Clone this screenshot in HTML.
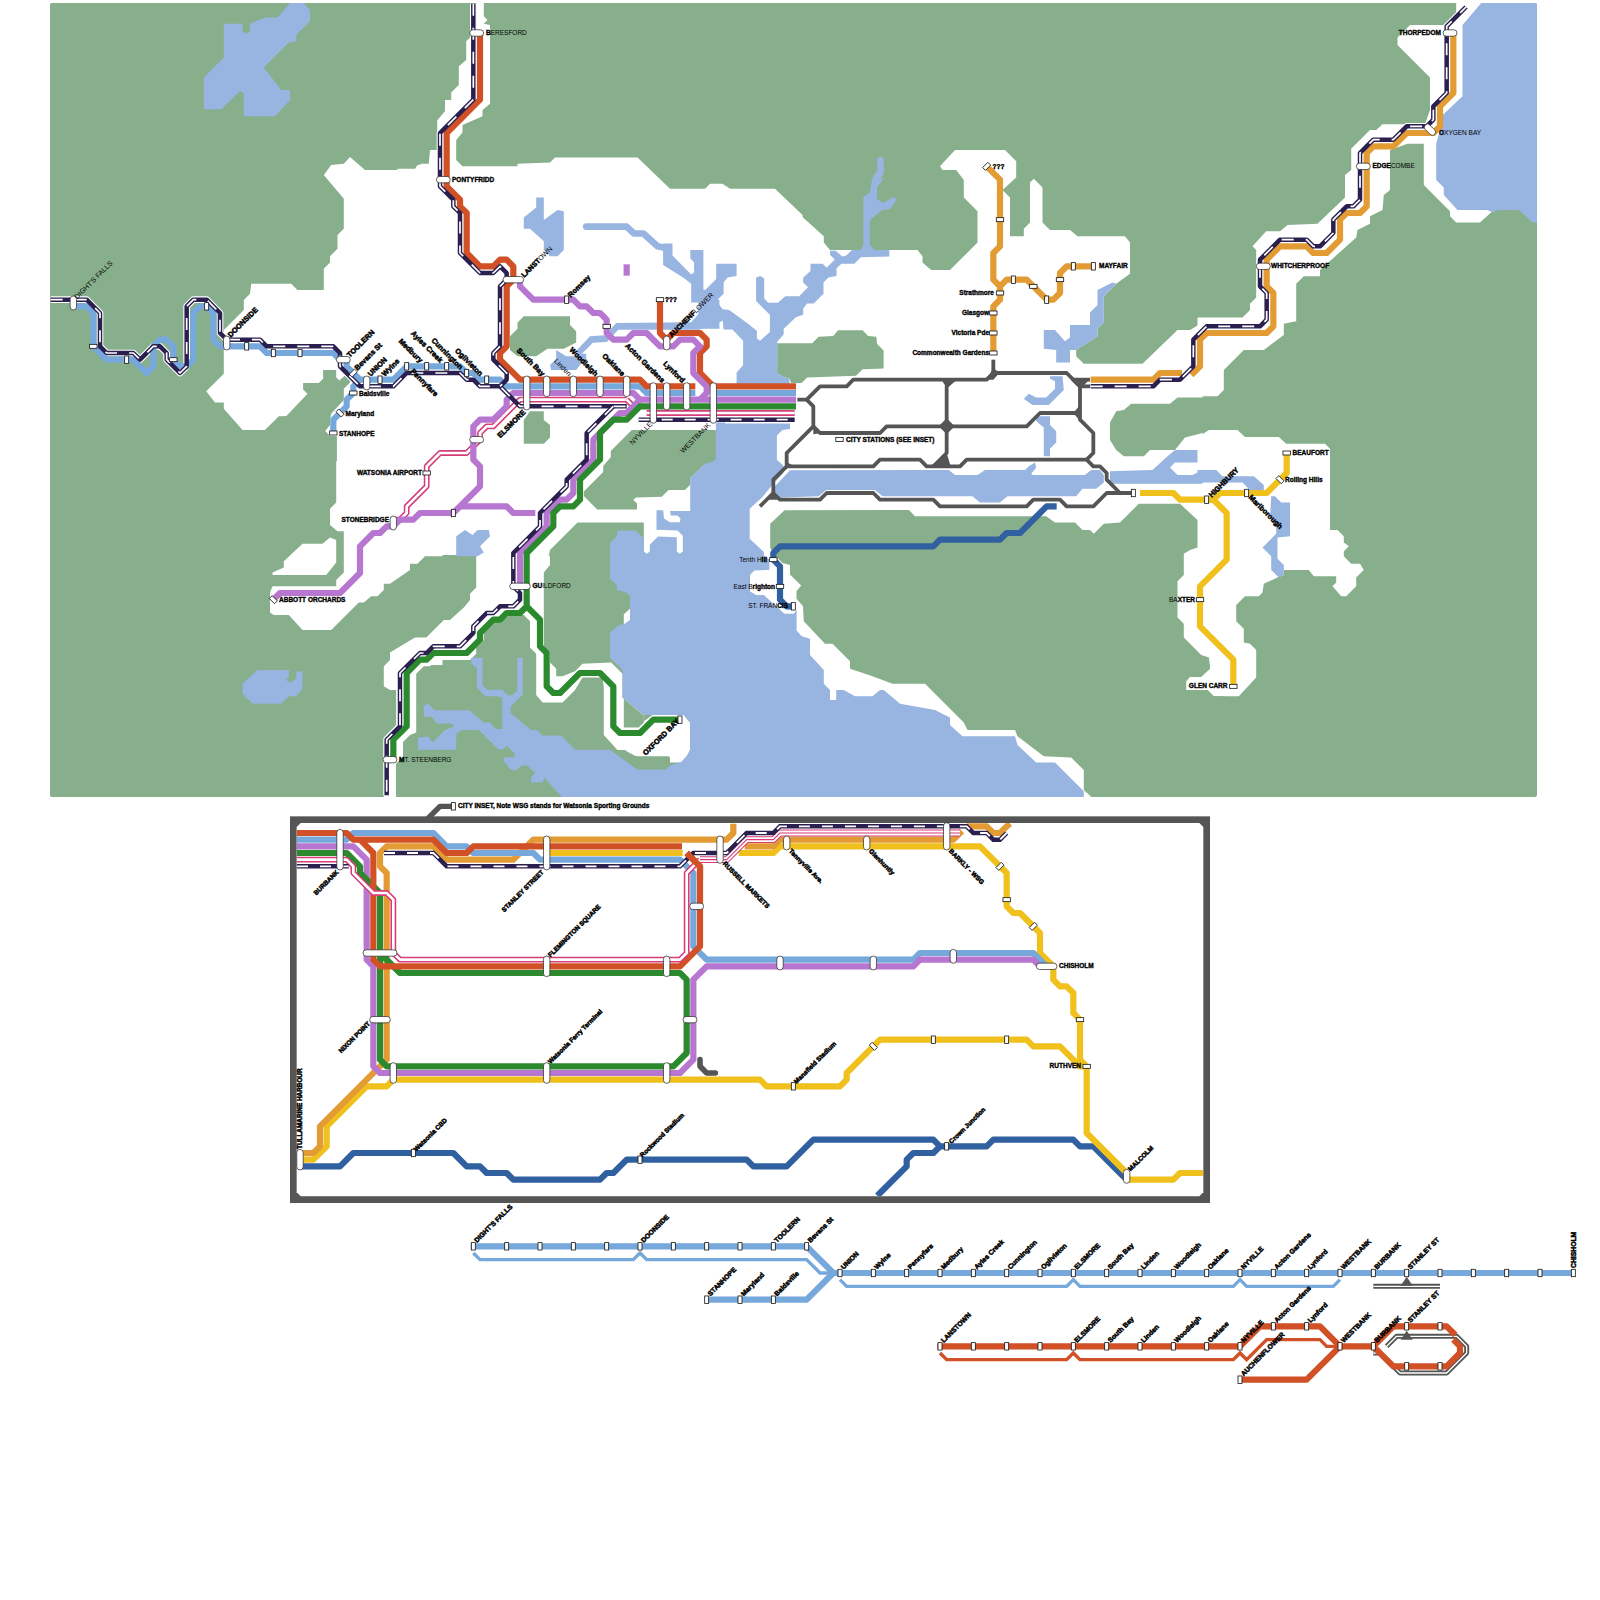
<!DOCTYPE html><html><head><meta charset="utf-8"><title>Map</title><style>html,body{margin:0;padding:0;background:#fff}svg{display:block}text{font-family:"Liberation Sans",sans-serif}</style></head><body>
<svg width="1600" height="1600" viewBox="0 0 1600 1600">
<defs><clipPath id="mapclip"><rect x="50" y="3" width="1487" height="794" rx="2"/></clipPath></defs>
<rect x="50" y="3" width="1487" height="794" rx="2" fill="#87af8b"/>
<g clip-path="url(#mapclip)">
<polygon points="442.5,120 437.5,120 437.5,150 430,150 428.8,163.8 421.2,163.8 416.2,170 365,170 350,157 343.8,163.8 331.2,165 323.8,175 343.8,198.8 343.8,228.8 337.5,235 337.5,248.8 330,256.2 330,262.5 323.8,268.8 323.8,290 297.5,290 291.2,283.8 251.2,283.8 250,293.8 243.8,300 243.8,310 223.8,330 223.8,373.8 206.2,391.2 215,402.5 442.5,402.5" fill="#fff"/>
<polygon points="397.5,168.8 415,168.8 417.5,165 430,163.8 430,155 437.5,152.5 437.5,120 445,111.2 445,100 451.2,100 451.2,92.5 458.8,85 458.8,66.2 466.2,60 466.2,41.2 470,37.5 470,28.8 476.2,25 476.2,3 483.8,3 483.8,16.2 487.5,20 483.8,23.8 490,25 490,103.8 482.5,110 482.5,116.2 462.5,125 462.5,132.5 456.2,140 456.2,160 462.5,166.2 517.5,166.2 517.5,163.8 550,162.5 555,157.5 637.5,157.5 670,188.8 705,188.8 710,183.8 722.5,183.8 730,188.8 775,188.8 802.5,215 802.5,402.5 397.5,402.5" fill="#fff"/>
<polygon points="797.5,212.5 823.8,236.2 823.8,242.5 830,250 917.5,250 922.5,256.2 922.5,262.5 931.2,270 950,270 977.5,242.5 977.5,211.2 963.8,197.5 963.8,180 956.2,170 942.5,170 940,166.2 955,150 1005,150 1016.2,161.2 1016.2,177.5 1002.5,190 1010,197.5 1010,236.2 1023.8,236.2 1023.8,228.8 1030,222.5 1030,182.5 1033.8,178.8 1042.5,187.5 1042.5,222.5 1050,230 1070,230 1077.5,236.2 1125,236.2 1130,242.5 1130,273.8 1116.2,283.8 1103.8,296.2 1103.8,322.5 1097.5,328.8 1097.5,336.2 1076.2,350 1076.2,356.2 1083.8,363.8 1142.5,363.8 1177.5,330 1190,330 1202.5,322.5 1202.5,402.5 797.5,402.5" fill="#fff"/>
<polygon points="1197.5,317.5 1242.5,317.5 1250,310 1250,303.8 1256.2,297.5 1256.2,250 1252.5,246.2 1266.2,231.2 1280,231.2 1287.5,225 1317.5,223.8 1345,197.5 1345,175 1351.2,170 1351.2,148.8 1370,130 1376.2,130 1382.5,124.2 1425,124.2 1430,110 1430,77.5 1397.5,45 1397.5,37.5 1410,25 1446.2,25 1456.2,13.8 1456.2,0 1485,0 1465,25 1465,100 1442.5,120 1440,143.8 1440,180 1447.5,190 1460,207.5 1487.5,207.5 1493.8,210 1480,222.5 1456.2,222.5 1450,216.2 1450,211.2 1423.8,185 1423.8,143.8 1407.5,143.8 1390,150 1390,190 1383.8,195 1382.5,210 1370,216.2 1370,223.8 1357.5,230 1356.2,237.5 1320,270 1320,276.2 1303.8,276.2 1296.2,283.8 1296.2,321.2 1283.8,323.8 1283.8,335 1263.8,350 1243.8,350 1223.8,370 1223.8,390 1217.5,396.2 1197.5,396.2" fill="#fff"/>
<polygon points="223.8,397.5 223.8,408.8 242.5,430 265,430 278.8,417.5 291.2,415 305,400 305,397.5" fill="#fff"/>
<polygon points="343.8,397.5 330,412.5 330,425 325,431.2 330,436.2 336.2,436.2 336.2,502.5 330,508.8 330,525 337.5,531.2 343.8,531.2 343.8,572.5 336.2,580 336.2,586.2 272.5,586.2 270,592.5 270,612.5 273.8,615 288.8,615 302.5,630 331.2,630 346.2,615 358.8,602.5 363.8,602.5 371.2,596.2 377.5,596.2 383.8,590 383.8,583.8 390,583.8 410,570 410,563.8 417.5,563.8 425,556.2 442.5,556.2 442.5,397.5" fill="#fff"/>
<polygon points="272.5,572.5 283.8,567.5 283.8,561.2 302.5,543.8 322.5,543.8 330,537.5 336.2,540 336.2,562.5 326.2,575 272.5,575" fill="#fff"/>
<polygon points="442.5,637.5 415,637.5 390,652.5 390,660 383.8,666.2 383.8,686.2 390,690 396.2,690 396.2,725 383.8,737.5 383.8,802.5 396,802.5 396,763.8 403,757 403,737.5 415,725.5 415,672.5 422.5,665 442.5,665" fill="#fff"/>
<polygon points="397.5,397.5 802.5,397.5 802.5,700 750,700 750,555 397.5,555" fill="#fff"/>
<polygon points="397.5,650 411.2,640 423.8,640 443.8,620 450,620 463.8,607.5 470,600 470,593.8 476.2,587.5 476.2,552.5 550,552.5 550,565 543.8,572.5 543.8,646.2 550,652.5 550,662.5 556.2,668.8 556.2,676.2 562.5,676.2 575,671.2 582.5,663.8 611.2,662.5 622.5,673.8 622.5,697.5 643.8,715 643.8,721.2 652.5,715 683.8,715 690,722.5 690,750 683.8,762.5 670,762.5 668.8,756.2 632.5,756.2 625,750 617.5,750 603.8,735 603.8,687.5 602.5,677.5 582.5,677.5 575,690 562.5,702.5 542.5,702.5 536.2,695 536.2,653.8 530,647.5 530,621.2 523.8,615 510,615 502.5,620 490,620 483.8,626.2 483.8,640 476.2,647.5 476.2,653.8 470,660 436.2,660 430,666.2 423.8,666.2 416.2,673.8 416.2,732.5 410,735 397.5,747.5" fill="#fff"/>
<polygon points="623.8,614.2 630,608.8 630,625 623.8,629.2" fill="#fff"/>
<polygon points="797.5,397.5 1202.5,397.5 1202.5,802.5 797.5,802.5" fill="#fff"/>
<polygon points="1197.5,437.5 1208.8,430 1237.5,430 1245,437 1278.8,437 1286.2,443.8 1325,443.8 1330,448.8 1330,530 1337.5,530 1343.8,536.2 1343.8,542.5 1348.8,546.2 1343.8,551.2 1343.8,556.2 1351.2,563.8 1360,563.8 1363.8,570 1356.2,577.5 1356.2,586.2 1346.2,596.2 1341.2,596.2 1332.5,586.2 1336.2,582.5 1336.2,576.2 1313.8,576.2 1308.8,570 1283.8,570 1283.8,575 1277.5,577.5 1263.8,583.8 1262.5,592.5 1258.8,596.2 1245,596.2 1236.2,605 1236.2,621.2 1243.8,628.8 1243.8,642.5 1250,643.8 1256.2,650 1256.2,677.5 1238.8,696.2 1213.8,696.2 1207.5,690 1185,690 1185,681.2 1197.5,676.2" fill="#fff"/>
<polygon points="510,336.2 517.5,328.8 517.5,322.5 523.8,316.2 570,316.2 570,325 576.2,331.2 576.2,342.5 563.8,348.8 547.5,348.8 536.2,356.2 517.5,356.2 510,350" fill="#87af8b"/>
<polygon points="523.8,420 530,411.2 543.8,411.2 543.8,420 550,425 550,437.5 543.8,443.8 523.8,443.8" fill="#87af8b"/>
<polygon points="631.8,430 715.8,430 715.8,459.2 712,463 706,463 690.2,478 690.2,484.8 685,490 668.5,490 661.8,496.8 636.2,497.5 633.2,499.8 637,503.5 637,509.5 597.2,509.5 583.8,496 583.8,491.5 603.2,472 603.2,466 610.8,457 610.8,451" fill="#87af8b"/>
<polygon points="577.5,522.5 643.8,522.5 643.8,556.2 548.8,556.2 550,550" fill="#87af8b"/>
<polygon points="623.8,698.8 643.8,715.5 643.8,722.5 638.8,727.5 623.8,727.5" fill="#87af8b"/>
<polygon points="698.1,430.9 715.9,430.9 715.9,460 706.6,463.8 698.1,467.5" fill="#87af8b"/>
<polygon points="612.8,750.6 625,750.6 636.2,756.2 656.9,762.8 662.5,757.2 670,757.2 670,765.6 666.2,769.4 637.2,769.4" fill="#87af8b"/>
<polygon points="784.5,510.2 909,510 915,516.2 1046.2,516.2 1055,522.5 1075,522.5 1082.5,530 1090,530 1093.8,533.8 1103.8,523.8 1120,522.5 1138.8,503.8 1180,503.8 1197.5,520 1197.5,547.5 1190,550 1183.8,553.8 1183.8,575 1177.5,581.2 1177.5,617.5 1183.8,623.8 1183.8,637.5 1201.2,655 1208.8,657.5 1210,668.8 1201.2,677 1190,677 1186.2,681.2 1186.2,690 1207.5,690 1213.8,696.2 1225,696.2 1225,802.5 1097.5,802.5 1083.8,790 1083.8,770 1071.2,757.5 1043.8,756.2 1017.5,736.2 1015,730 967.5,730 963.8,722.5 925,683.8 892.5,683.8 872.5,676.2 850,668.8 850,661.2 832.5,643.8 825,643.8 803.8,621.2 803,606.2 796.5,598.8 796.5,591.2 801.2,585.5 790,574.5 790,565 782.5,563 775,555.5 770.2,548 770.2,523.8" fill="#87af8b"/>
<polygon points="1110,422.5 1116.2,411.2 1123.8,410 1131.2,403.8 1170,403.8 1177.5,397.5 1225,397.5 1225,430 1208.8,430 1200,433.8 1185,437.5 1175,450 1150,450 1143.8,456.2 1123.8,456.2 1116.2,450 1110,440" fill="#87af8b"/>
<polygon points="1197.5,655 1208.8,657.5 1210,668.8 1197.5,677.5" fill="#87af8b"/>
<polygon points="777.2,343.3 812.1,343.3 818.6,336.8 833.2,336 838.1,330.3 862.5,330.3 868.2,336 876.3,336.8 877.1,344.1 883.6,350.6 883.6,368.5 862.5,369.3 856,375.8 807.2,377.4 801.5,383.1 791,383.1 789.4,378.2 784.5,377.4 777.2,373.3" fill="#87af8b"/>
<polygon points="303.1,383.1 318.8,383.1 323.1,378.8 323.1,370 336.2,370 336.2,377.5 339.4,380.6 346.9,373.8 350.6,377.5 350,382.5 343.8,388.8 343.8,400 331.2,413.8 330,421.2 323.8,429.4 330,436.2 336.9,436.2 336.9,461.2 250,461.2 242.5,430 265,430 278.8,416.2 286.2,416.2 307.5,393.8 303.1,389.4" fill="#87af8b"/>
<polygon points="290,3 303.8,3 310,10 310,21.2 296.2,35 296.2,41.2 288.8,42.5 263.8,67.5 281.2,90 290,90 290,100 275,116.2 243.8,116.2 243.8,93.8 240,91.2 221.2,109.2 203.8,109.2 203.8,77.5 223.8,57.5 223.8,23.8 242.5,23.8 242.5,31.2 246.2,33.8 250,31.2 250,23.8 265,17.5 277.5,17.5" fill="#98b4e0"/>
<polygon points="536.2,197.5 543.8,197.5 543.8,220 557.5,210 563.8,211.2 563.8,250 557.5,256.2 550,256.2 543.8,250 543.8,241.2 530,228.8 523.8,228.8 523.8,217.5 536.2,207.5" fill="#98b4e0"/>
<polygon points="1043.8,330 1055,330 1065,341.2 1070,337.5 1070,325 1090,325 1090,312.5 1097.5,305 1097.5,290 1112.5,282.5 1116.2,283.8 1103.8,296.2 1103.8,322.5 1097.5,328.8 1097.5,336.2 1076.2,350 1070,350 1070,362.5 1056.2,362.5 1056.2,350 1043.8,348.8" fill="#98b4e0"/>
<polygon points="1483.8,0 1540,0 1540,222.5 1532.5,222.5 1518.8,210 1497.5,210 1492.5,212.5 1487.5,210 1457.5,210 1443.8,195 1443.8,187.5 1436.2,180 1436.2,143.8 1440,130 1440,117.5 1462.5,96.2 1462.5,25" fill="#98b4e0"/>
<polygon points="242.5,683.8 257.5,670 288.8,670 288.8,676.2 286.2,680 290,682.5 296.2,678.8 296.2,671.2 302.5,671.2 302.5,688.8 296.2,696.2 288.8,696.2 281.2,703.8 252.5,703.8 242.5,693.8" fill="#98b4e0"/>
<polygon points="716.2,422.5 715.8,459.2 712,463 706,463 690.2,478 690.2,511 670,511 670.8,515.5 677.5,515.5 680.5,518.5 679.8,522.2 670,522.2 664,518.5 663.2,510.2 656.5,510.2 656.5,529.8 677.5,530.5 682.8,535.8 682.8,551.5 679.8,553.8 676.8,551.5 676.8,537.2 658,536.5 649.8,544.8 649.8,551.5 646.8,553.8 643.8,551.5 643.8,538 635.5,530.5 617.5,530.5 616.8,536.5 610,542.5 610,578.8 616.8,585 616.8,590 626.2,592.5 630,596.2 630,620 623.8,624.2 618.8,625 610,632.5 610,658 622.5,670 622.5,697.5 643.8,715 652.5,715 683.8,715 690,722.5 690,750 683.8,762.5 683.8,802.5 802.5,802.5 802.5,640 725,640 725,422.5" fill="#98b4e0"/>
<polygon points="715.9,423.4 790,423.4 790,429.1 782.5,430 776.9,435.6 776.9,460 783.4,465.6 783.4,473.1 771.2,486.2 761.9,497.5 749.7,508.8 749.7,538.8 763.8,551.9 763.8,555.6 769.4,559.4 769.4,569.7 754.4,570.6 749.7,575.3 749.7,591.2 756.2,595 763.8,595 784.4,613.8 793.8,613.8 796.6,610 796.6,630.6 805,640 805,643.8 700,643.8 700,467.5 706.6,463.8 715.9,460" fill="#98b4e0"/>
<polygon points="471.2,657.8 482.5,657.8 482.5,685 487.2,689.7 502.2,689.7 507.8,695.3 512.5,695.3 517.2,690.6 517.2,657.8 522.8,657.8 522.8,694.4 510.6,706.6 510.6,713.1 531.2,730 536.9,730 542.5,735.6 561.2,735.6 575.3,749.7 610,749.7 637.2,769.4 666.2,769.4 670,765.6 681.2,761.9 689.7,752.5 701.9,752.5 701.9,798.4 563.1,798.4 544.4,777.8 542.5,782.5 531.2,782.5 531.2,776.9 535,773.1 527.5,765.6 521.9,765.6 516.2,770.3 510.6,769.4 504.1,761.9 504.1,757.2 514.4,757.2 514.4,753.4 506.9,745.9 502.2,749.7 497.5,748.8 478.8,730 461.9,730 456.2,733.8 456.2,749.7 417.8,749.7 417.8,737.5 428.1,736.6 432.8,742.2 445,730 454.4,726.2 450.6,723.4 436.6,723.4 431.9,716.9 424.4,716.9 423.4,705.6 428.1,703.8 434.7,710.3 469.4,710.3 483.4,722.5 490,722.5 495.6,729.1 502.2,729.1 502.2,698.1 497.5,696.2 485.3,696.2 476.9,687.8 476.9,668.1 471.2,663.4" fill="#98b4e0"/>
<polygon points="456.2,536.2 465,530 472.5,535 477.5,530 488.8,530 490,536.2 480,546.2 483.8,552.5 477.5,556.2 456.2,556.2" fill="#98b4e0"/>
<polygon points="790,470.2 948.8,470 955,475 977.5,475 985,470 1025,470 1028.8,466.2 1035,462.5 1036.2,467.5 1031.2,473.8 1032.5,475 1085,475 1091.2,470 1100,470 1103.8,475 1103.8,482.5 1096.2,488.8 1082.5,488.8 1076.2,496.2 1007.5,496.2 1000,502.5 980,502.5 972.5,496.2 882.5,496.2 875,490 826.2,490 818.8,496.2 780.5,497.5 775,492 775,486.2" fill="#98b4e0"/>
<polygon points="1110,471.2 1152.5,470 1167.5,456.2 1175,450 1197.5,450 1197.5,462.5 1175,462.5 1170,467.5 1177.5,475 1192.5,475 1202.5,470 1202.5,483.8 1110,483.8" fill="#98b4e0"/>
<polygon points="1036.2,416.2 1050,416.2 1050,425 1056.2,431.2 1056.2,442.5 1050,448.8 1050,456.2 1043.8,456.2 1043.8,427.5 1036.2,421.2" fill="#98b4e0"/>
<polygon points="797.5,635 810,638.8 810,655 823.8,670 823.8,683.8 830,690 830,700 836.2,700 836.2,690 843.8,690 855,696.2 872.5,696.2 880,690 883.8,690 900,703.8 935,710 950,717.5 950,725 962.5,736.2 1015,736.2 1017.5,745 1036.2,762.5 1055,762.5 1083.8,791.2 1083.8,802.5 797.5,802.5" fill="#98b4e0"/>
<polygon points="1197.5,470 1216.2,470 1222.5,476.2 1253.8,476.2 1263.8,485 1263.8,490 1250,490 1242.5,482.5 1197.5,482.5" fill="#98b4e0"/>
<polygon points="1271.2,496.2 1275,496.2 1281.2,502.5 1290,502.5 1290,536.2 1277.5,537.5 1277.5,558.8 1283.8,565 1283.8,575 1278.8,577.5 1271.2,570 1271.2,556.2 1262.5,547.5 1276.2,533.8 1276.2,523.8 1270,517.5" fill="#98b4e0"/>
<polygon points="736.6,383.9 736.6,372.5 743.1,365.2 743.1,340.8 732.5,329.5 723.6,329.5 722.7,320.5 715.4,324.6 698.4,324.6 698.4,293.7 703.2,292.1 716.2,279.1 716.2,263.7 736.6,263.7 736.6,275.9 727.6,277.5 723.6,282.4 723.6,293.7 716.2,301 722.7,309.2 729.2,310 747.1,323 756.9,331.1 756.9,338.4 760.1,340.8 769.9,331.9 769.9,314.8 756.1,301 756.1,277.5 760.1,275.9 764.2,278.3 764.2,298.6 768.2,302.7 778,302.7 785.3,296.2 799.1,296.2 808,287.2 803.2,282.4 803.2,277.5 810.5,271 810.5,263.7 822.7,263.7 826.7,267.7 834.8,259.6 830,254.7 830,250.7 835.7,250.7 842.2,256.4 846.2,255.5 851.9,249.9 860.8,249.9 863.3,245 863.3,197.1 869.8,192.2 872.2,178.4 883.6,178.4 877.1,187.3 877.1,199.5 883.6,202.7 893.3,197.1 896.6,199.5 890.1,209.2 882,210.1 869.8,220.6 869.8,245 874.7,249.9 889.3,249.9 889.3,256.4 860.8,257.2 854.3,263.7 841.3,263.7 836.5,268.5 836.5,275.9 828.4,277.5 823.5,282.4 823.5,293.7 813.7,303.5 807.2,303.5 803.2,308.4 803.2,314.8 795.9,317.3 783.7,328.7 783.7,334.3 777.2,341.7 777.2,373.3 784.5,377.4 789.4,378.2 789.4,383.9" fill="#98b4e0"/>
<polygon points="663.1,243.4 672.5,243.4 672.5,255.6 691.2,274.4 694.1,272.5 694.1,262.2 690.3,258.4 690.3,250 703.4,250 703.4,289.4 710,291.2 719.4,300.6 719.4,328.8 702.5,328.8 698.8,329.7 618.1,329.7 606.9,341.9 592.8,342.8 580.6,355 575.9,351.2 590,336.2 605,335.3 616.2,323.1 691.2,322.2 698.8,313.8 702.5,302.5 691.2,302.5 691.2,283.8 683.8,278.1 663.1,265" fill="#98b4e0"/>
<polygon points="556.2,350 566.2,356.2 575,356.2 578.8,353.8 586.2,353.8 586.2,358.8 580,365 576.2,370 551.2,370 550,365 556.2,358.8" fill="#98b4e0"/>
<polygon points="1050,376.2 1062.5,376.2 1063.8,390 1048.8,405 1032.5,405 1023.8,398.8 1028.8,393.8 1036.2,397.5 1046.2,397.5 1055,388.8 1055,381.2 1050,378.8" fill="#98b4e0"/>
<polyline points="880.5,160 880.5,172.5 876.2,177.5 876.2,182.5" fill="none" stroke="#98b4e0" stroke-width="6.7" stroke-linejoin="round" stroke-linecap="round"/>
<polyline points="586.2,226.6 626.6,226.6 634.1,233.5 643.4,233.5 657.5,246.2 665.9,248.1" fill="none" stroke="#98b4e0" stroke-width="6.7" stroke-linejoin="round" stroke-linecap="round"/>
</g>
<g id="lines">
<polyline points="50.67,299.67 86.67,299.67 100,313 100,346.33 106.67,353 133.33,353 140,359.67 153.33,346.33 160,346.33 166.67,353 166.67,359.67 180,373 186.67,366.33 186.67,306.33 193.33,299.67 206.67,299.67 220,313 220,333 226.67,339.67 260,339.67 266.67,346.33 333.33,346.33 340,353 340,366.33 360,386.33 393.33,386.33 406.67,373 460,373 466.67,379.67 473.33,379.67 480,386.33 500,386.33 520,406.33 626.67,406.33" fill="none" stroke="#fff" stroke-width="6.666666666666667" stroke-linejoin="round"/>
<polyline points="473.33,3.67 473.33,99.67 440,133 440,186.33 453.33,199.67 453.33,206.33 460,213 460,253 480,273 493.33,273 500,266.33 506.67,273 506.67,279.67 500,286.33 500,346.33 493.33,353 493.33,359.67 506.67,373 506.67,379.67 500,386.33" fill="none" stroke="#fff" stroke-width="6.666666666666667" stroke-linejoin="round"/>
<polyline points="613.33,406.33 586.67,433 586.67,459.67 566.67,479.67 566.67,486.33 540,513 540,526.33 513.33,553 513.33,586.33 520,593 520,599.67 513.33,606.33 500,606.33 493.33,613 486.67,613 473.33,626.33 473.33,633 460,646.33 433.33,646.33 426.67,653 420,653 400,673 400,726.33 386.67,739.67 386.67,795.33" fill="none" stroke="#fff" stroke-width="6.666666666666667" stroke-linejoin="round"/>
<polyline points="1090.67,386.33 1153.33,386.33 1160,379.67 1180,379.67 1193.33,366.33 1193.33,339.67 1206.67,326.33 1260,326.33 1266.67,319.67 1266.67,293 1260,286.33 1260,259.67 1280,239.67 1306.67,239.67 1313.33,246.33 1320,246.33 1333.33,233 1333.33,219.67 1346.67,206.33 1353.33,206.33 1360,199.67 1360,153 1373.33,139.67 1393.33,139.67 1406.67,126.33 1426.67,126.33 1433.33,119.67 1433.33,106.33 1446.67,93 1446.67,33 1446.67,26.33 1466,7" fill="none" stroke="#fff" stroke-width="6.666666666666667" stroke-linejoin="round"/>
<polyline points="73.33,306.33 86.67,306.33 93.33,313 93.33,346.33 106.67,359.67 133.33,359.67 146.67,373 153.33,366.33 153.33,346.33 160,339.67 166.67,339.67 173.33,346.33 173.33,359.67 180,366.33 186.67,366.33 193.33,359.67 193.33,313 200,306.33 206.67,306.33 213.33,313 213.33,339.67 220,346.33 260,346.33 266.67,353 333.33,353 340,359.67 346.67,359.67 346.67,366.33 360,379.67 393.33,379.67 406.67,366.33 460,366.33 466.67,373 473.33,373 480,379.67 500,379.67 506.67,386.33 640,386.33 646.67,393 695.33,393" fill="none" stroke="#77a8dc" stroke-width="6.2" stroke-linejoin="round"/>
<polyline points="713.33,393 796,393" fill="none" stroke="#77a8dc" stroke-width="6.2" stroke-linejoin="round"/>
<polyline points="360,379.67 353.33,386.33 353.33,393 346.67,399.67 346.67,406.33 340,413 333.33,419.67 333.33,433" fill="none" stroke="#77a8dc" stroke-width="6.2" stroke-linejoin="round"/>
<polyline points="480,33 480,99.67 446.67,133 446.67,186.33 460,199.67 460,206.33 466.67,213 466.67,253 480,266.33 493.33,266.33 500,259.67 506.67,259.67 513.33,266.33 513.33,279.67 506.67,286.33 506.67,346.33 500,353 500,359.67 520,379.67 640,379.67 646.67,386.33 695.33,386.33" fill="none" stroke="#d15026" stroke-width="6.2" stroke-linejoin="round"/>
<polyline points="660,299.67 660,333 666.67,339.67 673.33,333 700,333 706.67,339.67 706.67,346.33 700,353 700,373 713.33,386.33 796,386.33" fill="none" stroke="#d15026" stroke-width="6.2" stroke-linejoin="round"/>
<polyline points="626.67,399.67 526.67,399.67 520,399.67 493.33,426.33 486.67,426.33 480,433 480,439.67 466.67,453 440,453 426.67,466.33 426.67,486.33 406.67,506.33 406.67,513 400,519.67 393.33,519.67" fill="none" stroke="#d63d78" stroke-width="5.8" stroke-linejoin="round"/>
<polyline points="626.67,399.67 526.67,399.67 520,399.67 493.33,426.33 486.67,426.33 480,433 480,439.67 466.67,453 440,453 426.67,466.33 426.67,486.33 406.67,506.33 406.67,513 400,519.67 393.33,519.67" fill="none" stroke="#fff" stroke-width="2.7" stroke-linejoin="round"/>
<polyline points="626.67,399.67 633.33,406.33" fill="none" stroke="#d63d78" stroke-width="5.8" stroke-linejoin="round"/>
<polyline points="626.67,399.67 633.33,406.33" fill="none" stroke="#fff" stroke-width="2.7" stroke-linejoin="round"/>
<polyline points="646.67,413 794.67,413" fill="none" stroke="#d63d78" stroke-width="5.8" stroke-linejoin="round"/>
<polyline points="646.67,413 794.67,413" fill="none" stroke="#fff" stroke-width="2.7" stroke-linejoin="round"/>
<polyline points="520,279.67 520,286.33 533.33,299.67 573.33,299.67 580,306.33 586.67,306.33 593.33,313 600,313 606.67,319.67 606.67,333 613.33,339.67 626.67,339.67 633.33,333 646.67,333 660,346.33 673.33,346.33 680,339.67 693.33,339.67 700,346.33 693.33,353 693.33,373 706.67,386.33 706.67,393 700,399.67" fill="none" stroke="#b776cf" stroke-width="6.2" stroke-linejoin="round"/>
<polyline points="626.67,264.33 626.67,275.67" fill="none" stroke="#b776cf" stroke-width="6.2" stroke-linejoin="round"/>
<polyline points="273.33,599.67 280,593 340,593 360,573 360,546.33 373.33,533 380,533 386.67,526.33 393.33,526.33 400,519.67 413.33,519.67 420,513 453.33,513 480,486.33 480,466.33 473.33,459.67 473.33,426.33 480,419.67 493.33,419.67 506.67,406.33 506.67,399.67 513.33,393 633.33,393 640,399.67 796,399.67" fill="none" stroke="#b776cf" stroke-width="6.2" stroke-linejoin="round"/>
<polyline points="460,506.33 506.67,506.33 513.33,513 535.33,513" fill="none" stroke="#b776cf" stroke-width="6.2" stroke-linejoin="round"/>
<polyline points="640,399.67 626.67,413 620,413 593.33,439.67 593.33,459.67 573.33,479.67 573.33,493 566.67,499.67 560,499.67 546.67,513 546.67,526.33 520,553 520,586.33" fill="none" stroke="#b776cf" stroke-width="6.2" stroke-linejoin="round"/>
<polyline points="796,406.33 640,406.33 626.67,419.67 613.33,419.67 600,433 600,459.67 580,479.67 580,499.67 573.33,506.33 560,506.33 553.33,513 553.33,526.33 526.67,553 526.67,606.33 520,613 506.67,613 500,619.67 493.33,619.67 480,633 480,639.67 466.67,653 433.33,653 426.67,659.67 420,659.67 406.67,673 406.67,726.33 393.33,739.67 393.33,759.67" fill="none" stroke="#2b8a2e" stroke-width="6.2" stroke-linejoin="round"/>
<polyline points="526.67,606.33 540,619.67 540,646.33 546.67,653 546.67,686.33 553.33,693 560,693 580,673 600,673 613.33,686.33 613.33,726.33 620,733 640,733 653.33,719.67 680,719.67" fill="none" stroke="#2b8a2e" stroke-width="6.2" stroke-linejoin="round"/>
<polyline points="793.33,606.33 786.67,606.33 780,599.67 780,566.33 773.33,559.67 773.33,553 780,546.33 933.33,546.33 940,539.67 1000,539.67 1006.67,533 1020,533 1046.67,506.33 1056.67,506.33" fill="none" stroke="#3060a0" stroke-width="6.2" stroke-linejoin="round"/>
<polyline points="986.67,166.33 1000,179.67 1000,246.33 993.33,253 993.33,279.67 1000,286.33 1000,299.67 993.33,306.33 993.33,353" fill="none" stroke="#e39b33" stroke-width="6.2" stroke-linejoin="round"/>
<polyline points="1000,286.33 1006.67,279.67 1026.67,279.67 1046.67,299.67 1053.33,299.67 1060,293 1060,273 1066.67,266.33 1093.33,266.33" fill="none" stroke="#e39b33" stroke-width="6.2" stroke-linejoin="round"/>
<polyline points="1090.67,379.67 1153.33,379.67 1160,373 1182,373" fill="none" stroke="#e39b33" stroke-width="6.2" stroke-linejoin="round"/>
<polyline points="1191.33,375 1200,366.33 1200,339.67 1206.67,333 1266.67,333 1273.33,326.33 1273.33,293 1266.67,286.33 1266.67,259.67 1280,246.33 1306.67,246.33 1313.33,253 1326.67,253 1340,239.67 1340,219.67 1346.67,213 1360,213 1366.67,206.33 1366.67,153 1373.33,146.33 1393.33,146.33 1406.67,133 1433.33,133 1440,126.33 1440,106.33 1453.33,93 1453.33,33" fill="none" stroke="#e39b33" stroke-width="6.2" stroke-linejoin="round"/>
<polyline points="1140,493 1173.33,493 1180,499.67 1213.33,499.67 1220,493 1266.67,493 1286.67,473 1286.67,453" fill="none" stroke="#f0c11d" stroke-width="6.2" stroke-linejoin="round"/>
<polyline points="1206.67,499.67 1213.33,499.67 1226.67,513 1226.67,559.67 1200,586.33 1200,626.33 1233.33,659.67 1233.33,686.33" fill="none" stroke="#f0c11d" stroke-width="6.2" stroke-linejoin="round"/>
<polyline points="797.33,399.67 806.67,399.67 820,386.33 846.67,386.33 853.33,379.67 986.67,379.67 993.33,373 1066.67,373 1080,386.33 1080,419.67 1093.33,433 1093.33,453 1086.67,459.67 1093.33,466.33 1100,466.33 1106.67,473 1106.67,479.67 1120,493 1133.33,493" fill="none" stroke="#555555" stroke-width="3.8" stroke-linejoin="round"/>
<polyline points="1073.33,379.67 1090,379.67" fill="none" stroke="#555555" stroke-width="3.8" stroke-linejoin="round"/>
<polyline points="1080,386.33 1090,386.33" fill="none" stroke="#555555" stroke-width="3.8" stroke-linejoin="round"/>
<polyline points="806.67,399.67 813.33,406.33 813.33,426.33 786.67,453 786.67,466.33 773.33,479.67 773.33,493 760,506.33" fill="none" stroke="#555555" stroke-width="3.8" stroke-linejoin="round"/>
<polyline points="813.33,426.33 820,433 880,433 886.67,426.33 1026.67,426.33 1040,413 1080,413" fill="none" stroke="#555555" stroke-width="3.8" stroke-linejoin="round"/>
<polyline points="953.33,379.67 946.67,386.33 946.67,453 933.33,466.33" fill="none" stroke="#555555" stroke-width="3.8" stroke-linejoin="round"/>
<polyline points="786.67,466.33 873.33,466.33 880,459.67 920,459.67 926.67,466.33 960,466.33 966.67,459.67 1086.67,459.67" fill="none" stroke="#555555" stroke-width="3.8" stroke-linejoin="round"/>
<polyline points="773.33,493 780,499.67 820,499.67 826.67,493 873.33,493 880,499.67 933.33,499.67 940,506.33 1026.67,506.33 1033.33,499.67 1060,499.67 1066.67,506.33 1093.33,506.33 1106.67,493 1120,493" fill="none" stroke="#555555" stroke-width="3.8" stroke-linejoin="round"/>
<polyline points="993.33,373 993.33,359.67" fill="none" stroke="#555555" stroke-width="3.8" stroke-linejoin="round"/>
<polyline points="50.67,299.67 86.67,299.67 100,313 100,346.33 106.67,353 133.33,353 140,359.67 153.33,346.33 160,346.33 166.67,353 166.67,359.67 180,373 186.67,366.33 186.67,306.33 193.33,299.67 206.67,299.67 220,313 220,333 226.67,339.67 260,339.67 266.67,346.33 333.33,346.33 340,353 340,366.33 360,386.33 393.33,386.33 406.67,373 460,373 466.67,379.67 473.33,379.67 480,386.33 500,386.33 520,406.33 626.67,406.33" fill="none" stroke="#2a1f4f" stroke-width="4.5" stroke-linejoin="round"/>
<polyline points="50.67,299.67 86.67,299.67 100,313 100,346.33 106.67,353 133.33,353 140,359.67 153.33,346.33 160,346.33 166.67,353 166.67,359.67 180,373 186.67,366.33 186.67,306.33 193.33,299.67 206.67,299.67 220,313 220,333 226.67,339.67 260,339.67 266.67,346.33 333.33,346.33 340,353 340,366.33 360,386.33 393.33,386.33 406.67,373 460,373 466.67,379.67 473.33,379.67 480,386.33 500,386.33 520,406.33 626.67,406.33" fill="none" stroke="#fff" stroke-width="1.7" stroke-dasharray="12 12" stroke-linejoin="round"/>
<polyline points="473.33,3.67 473.33,99.67 440,133 440,186.33 453.33,199.67 453.33,206.33 460,213 460,253 480,273 493.33,273 500,266.33 506.67,273 506.67,279.67 500,286.33 500,346.33 493.33,353 493.33,359.67 506.67,373 506.67,379.67 500,386.33" fill="none" stroke="#2a1f4f" stroke-width="4.5" stroke-linejoin="round"/>
<polyline points="473.33,3.67 473.33,99.67 440,133 440,186.33 453.33,199.67 453.33,206.33 460,213 460,253 480,273 493.33,273 500,266.33 506.67,273 506.67,279.67 500,286.33 500,346.33 493.33,353 493.33,359.67 506.67,373 506.67,379.67 500,386.33" fill="none" stroke="#fff" stroke-width="1.7" stroke-dasharray="12 12" stroke-linejoin="round"/>
<polyline points="613.33,406.33 586.67,433 586.67,459.67 566.67,479.67 566.67,486.33 540,513 540,526.33 513.33,553 513.33,586.33 520,593 520,599.67 513.33,606.33 500,606.33 493.33,613 486.67,613 473.33,626.33 473.33,633 460,646.33 433.33,646.33 426.67,653 420,653 400,673 400,726.33 386.67,739.67 386.67,795.33" fill="none" stroke="#2a1f4f" stroke-width="4.5" stroke-linejoin="round"/>
<polyline points="613.33,406.33 586.67,433 586.67,459.67 566.67,479.67 566.67,486.33 540,513 540,526.33 513.33,553 513.33,586.33 520,593 520,599.67 513.33,606.33 500,606.33 493.33,613 486.67,613 473.33,626.33 473.33,633 460,646.33 433.33,646.33 426.67,653 420,653 400,673 400,726.33 386.67,739.67 386.67,795.33" fill="none" stroke="#fff" stroke-width="1.7" stroke-dasharray="12 12" stroke-linejoin="round"/>
<polyline points="638.67,419.67 794.67,419.67" fill="none" stroke="#2a1f4f" stroke-width="4.5"/>
<polyline points="638.67,419.67 794.67,419.67" fill="none" stroke="#fff" stroke-width="1.9" stroke-dasharray="11 12"/>
<polyline points="1090.67,386.33 1153.33,386.33 1160,379.67 1180,379.67 1193.33,366.33 1193.33,339.67 1206.67,326.33 1260,326.33 1266.67,319.67 1266.67,293 1260,286.33 1260,259.67 1280,239.67 1306.67,239.67 1313.33,246.33 1320,246.33 1333.33,233 1333.33,219.67 1346.67,206.33 1353.33,206.33 1360,199.67 1360,153 1373.33,139.67 1393.33,139.67 1406.67,126.33 1426.67,126.33 1433.33,119.67 1433.33,106.33 1446.67,93 1446.67,33 1446.67,26.33 1466,7" fill="none" stroke="#2a1f4f" stroke-width="4.5" stroke-linejoin="round"/>
<polyline points="1090.67,386.33 1153.33,386.33 1160,379.67 1180,379.67 1193.33,366.33 1193.33,339.67 1206.67,326.33 1260,326.33 1266.67,319.67 1266.67,293 1260,286.33 1260,259.67 1280,239.67 1306.67,239.67 1313.33,246.33 1320,246.33 1333.33,233 1333.33,219.67 1346.67,206.33 1353.33,206.33 1360,199.67 1360,153 1373.33,139.67 1393.33,139.67 1406.67,126.33 1426.67,126.33 1433.33,119.67 1433.33,106.33 1446.67,93 1446.67,33 1446.67,26.33 1466,7" fill="none" stroke="#fff" stroke-width="1.7" stroke-dasharray="12 12" stroke-linejoin="round"/>
<polygon points="946.67,453 933.33,466.33 950.67,466.33" fill="#555555"/>
<polygon points="938.67,426.33 946.67,418.33 954.67,426.33 946.67,434.33" fill="#555555"/>
<polygon points="941.33,379.67 946.67,387.67 957.33,379.67" fill="#555555"/>
<polygon points="1073.33,413 1080,405 1080,421" fill="#555555"/>
<polygon points="1070.67,379.67 1089.33,379.67 1080,389" fill="#555555"/>
<polygon points="813.33,426.33 813.33,434.33 821.33,433" fill="#555555"/>
<polygon points="786.67,462.33 786.67,466.33 794.67,466.33" fill="#555555"/>
<polygon points="773.33,489 773.33,493 782,499.67 768,499.67" fill="#555555"/>
<polygon points="986.67,379.67 993.33,367.67 999.33,373 993.33,379.67" fill="#555555"/>
</g>
<g id="inset">
<rect x="290.00" y="816.34" width="920.01" height="386.67" fill="#555555"/>
<polygon points="300.6633333333333,823.0033333333333 1199.3366666666668,823.0033333333333 1203.3366666666668,827.0033333333333 1203.3366666666668,1192.3366666666668 1199.3366666666668,1196.3366666666668 300.6633333333333,1196.3366666666668 296.6633333333333,1192.3366666666668 296.6633333333333,827.0033333333333" fill="#fff"/>
<polyline points="426.67,819.67 440,806.33 453.33,806.33" fill="none" stroke="#555555" stroke-width="5.4" stroke-linejoin="round"/>
<clipPath id="insclip"><rect x="296.6633333333333" y="823.0033333333333" width="906.6733333333335" height="373.3333333333335"/></clipPath><g clip-path="url(#insclip)">
<polyline points="300,1166.33 340,1166.33 353.33,1153 453.33,1153 466.67,1166.33 480,1166.33 486.67,1173 506.67,1173 513.33,1179.67 600,1179.67 606.67,1173 613.33,1173 626.67,1159.67 746.67,1159.67 753.33,1166.33 786.67,1166.33 813.33,1139.67 933.33,1139.67 940,1146.33 986.67,1146.33 993.33,1139.67 1073.33,1139.67 1080,1146.33 1093.33,1146.33 1120,1173 1126.67,1179.67" fill="none" stroke="#3060a0" stroke-width="6.2" stroke-linejoin="round"/>
<polyline points="940,1146.33 933.33,1153 913.33,1153 906.67,1159.67 906.67,1166.33 880,1193 877.33,1195.67" fill="none" stroke="#3060a0" stroke-width="6.2" stroke-linejoin="round"/>
<polyline points="300,1159.67 313.33,1159.67 326.67,1146.33 326.67,1126.33 366.67,1086.33 386.67,1086.33 393.33,1079.67 760,1079.67 766.67,1086.33 840,1086.33 846.67,1079.67 846.67,1073 880,1039.67 1026.67,1039.67 1033.33,1046.33 1060,1046.33 1080,1066.33 1086.67,1066.33" fill="none" stroke="#f0c11d" stroke-width="6.2" stroke-linejoin="round"/>
<polyline points="550,853 682.67,853" fill="none" stroke="#f0c11d" stroke-width="6.2" stroke-linejoin="round"/>
<polyline points="738.67,853 773.33,853 780,846.33 980,846.33 1006.67,873 1006.67,906.33 1013.33,913 1020,913 1040,933 1040,953 1053.33,966.33 1053.33,979.67 1060,986.33 1066.67,986.33 1073.33,993 1073.33,1013 1080,1019.67 1080,1059.67 1086.67,1066.33 1086.67,1133 1126.67,1173 1126.67,1179.67 1173.33,1179.67 1180,1173 1203,1173" fill="none" stroke="#f0c11d" stroke-width="6.2" stroke-linejoin="round"/>
<polyline points="300,1153 313.33,1153 320,1146.33 320,1126.33 386.67,1059.67 386.67,873 380,866.33 380,853 386.67,846.33 433.33,846.33 446.67,859.67 513.33,859.67 533.33,839.67 726.67,839.67 733.33,833 733.33,823.67" fill="none" stroke="#e39b33" stroke-width="6.2" stroke-linejoin="round"/>
<polyline points="744.67,846.33 773.33,846.33 780,839.67 953.33,839.67 962,831" fill="none" stroke="#e39b33" stroke-width="6.2" stroke-linejoin="round"/>
<polyline points="966.67,826.33 986.67,826.33 993.33,833 1000,833 1006.67,826.33 1010,823.67" fill="none" stroke="#e39b33" stroke-width="6.2" stroke-linejoin="round"/>
<polyline points="297,839.67 346.67,839.67 353.33,833 433.33,833 446.67,846.33 466.67,846.33 473.33,853 533.33,853 540,859.67 680,859.67 693.33,873 693.33,946.33 706.67,959.67 913.33,959.67 920,953 1033.33,953 1046.67,966.33" fill="none" stroke="#77a8dc" stroke-width="6.2" stroke-linejoin="round"/>
<polyline points="297,846.33 353.33,846.33 366.67,859.67 366.67,959.67 373.33,966.33 373.33,1066.33 380,1073 680,1073 693.33,1059.67 693.33,979.67 706.67,966.33 913.33,966.33 920,959.67 1033.33,959.67 1040,966.33" fill="none" stroke="#b776cf" stroke-width="6.2" stroke-linejoin="round"/>
<polyline points="297,853 346.67,853 360,866.33 360,873 380,893 380,953 400,973 680,973 686.67,979.67 686.67,1053 673.33,1066.33 386.67,1066.33 380,1059.67 380,953" fill="none" stroke="#2b8a2e" stroke-width="6.2" stroke-linejoin="round"/>
<polyline points="297,833 346.67,833 353.33,839.67 433.33,839.67 446.67,853 466.67,853 473.33,846.33 682,846.33" fill="none" stroke="#d15026" stroke-width="6.2" stroke-linejoin="round"/>
<polyline points="360,839.67 373.33,853 373.33,959.67 380,966.33 680,966.33 700,946.33 700,866.33 686.67,853" fill="none" stroke="#d15026" stroke-width="6.2" stroke-linejoin="round"/>
<polyline points="297,859.67 346.67,859.67 353.33,866.33 353.33,873 373.33,893 386.67,893 393.33,899.67 393.33,953 400,959.67 680,959.67 686.67,953 686.67,873 700,859.67" fill="none" stroke="#d63d78" stroke-width="5.8" stroke-linejoin="round"/>
<polyline points="297,859.67 346.67,859.67 353.33,866.33 353.33,873 373.33,893 386.67,893 393.33,899.67 393.33,953 400,959.67 680,959.67 686.67,953 686.67,873 700,859.67" fill="none" stroke="#fff" stroke-width="2.7" stroke-linejoin="round"/>
<polyline points="700,859.67 726.67,859.67 746.67,839.67 773.33,839.67 780,833 960,833" fill="none" stroke="#d63d78" stroke-width="6.8" stroke-linejoin="round"/>
<polyline points="700,859.67 726.67,859.67 746.67,839.67 773.33,839.67 780,833 960,833" fill="none" stroke="#fff" stroke-width="4.8" stroke-linejoin="round"/>
<polyline points="700,859.67 726.67,859.67 746.67,839.67 773.33,839.67 780,833 960,833" fill="none" stroke="#d63d78" stroke-width="1.1" stroke-linejoin="round"/>
<polyline points="297,866.33 348.67,866.33" fill="none" stroke="#2a1f4f" stroke-width="4.5"/>
<polyline points="297,866.33 348.67,866.33" fill="none" stroke="#fff" stroke-width="1.9" stroke-dasharray="11 12"/>
<polyline points="384,853 433.33,853 446.67,866.33 680,866.33 693.33,853 726.67,853 746.67,833 773.33,833 780,826.33 966.67,826.33 973.33,833 986.67,833 993.33,839.67 1000,839.67 1006.67,833" fill="none" stroke="#2a1f4f" stroke-width="4.5"/>
<polyline points="384,853 433.33,853 446.67,866.33 680,866.33 693.33,853 726.67,853 746.67,833 773.33,833 780,826.33 966.67,826.33 973.33,833 986.67,833 993.33,839.67 1000,839.67 1006.67,833" fill="none" stroke="#fff" stroke-width="1.9" stroke-dasharray="11 12"/>
<polyline points="686.67,853 700,866.33 700,879.67" fill="none" stroke="#d15026" stroke-width="6.2" stroke-linejoin="round"/>
<polyline points="700,1059.67 700,1066.33 706.67,1073 715.33,1073" fill="none" stroke="#555555" stroke-width="5.6" stroke-linejoin="round" stroke-linecap="round"/>
</g></g>
<g id="strips">
<polyline points="473.33,1253 480,1259.67 633.33,1259.67 640,1253 646.67,1259.67 806.67,1259.67 820,1273 840,1273" fill="none" stroke="#77a8dc" stroke-width="3.4" stroke-linejoin="miter"/>
<polyline points="840,1279.67 846.67,1286.33 1066.67,1286.33 1073.33,1279.67 1080,1286.33 1233.33,1286.33 1240,1279.67 1246.67,1286.33 1333.33,1286.33 1340,1279.67" fill="none" stroke="#77a8dc" stroke-width="3.4" stroke-linejoin="miter"/>
<polyline points="470.67,1246.33 806.67,1246.33 833.33,1273 1573.33,1273" fill="none" stroke="#77a8dc" stroke-width="6.2" stroke-linejoin="round"/>
<polyline points="706.67,1299.67 806.67,1299.67 833.33,1273" fill="none" stroke="#77a8dc" stroke-width="6.2" stroke-linejoin="round"/>
<polyline points="1373.33,1286.33 1440,1286.33" fill="none" stroke="#555555" stroke-width="5" stroke-linejoin="round"/>
<polyline points="1373.33,1286.33 1440,1286.33" fill="none" stroke="#fff" stroke-width="1.3" stroke-linejoin="round"/>
<polyline points="1373.33,1353 1380,1353 1400,1373 1446.67,1373 1466.67,1353 1466.67,1346.33 1456.67,1336.33 1396.67,1336.33 1386.67,1346.33" fill="none" stroke="#555555" stroke-width="5" stroke-linejoin="round"/>
<polyline points="1373.33,1353 1380,1353 1400,1373 1446.67,1373 1466.67,1353 1466.67,1346.33 1456.67,1336.33 1396.67,1336.33 1386.67,1346.33" fill="none" stroke="#fff" stroke-width="1.3" stroke-linejoin="round"/>
<polyline points="940,1353 946.67,1359.67 1066.67,1359.67 1073.33,1353 1080,1359.67 1233.33,1359.67 1240,1353 1246.67,1359.67 1266.67,1339.67 1320,1339.67 1326.67,1346.33 1340,1346.33" fill="none" stroke="#d15026" stroke-width="3.4" stroke-linejoin="miter"/>
<polyline points="937.33,1346.33 1240,1346.33 1260,1326.33 1320,1326.33 1340,1346.33 1373.33,1346.33 1393.33,1326.33 1446.67,1326.33 1455.33,1335" fill="none" stroke="#d15026" stroke-width="6.2" stroke-linejoin="round"/>
<polyline points="1240,1379.67 1306.67,1379.67 1340,1346.33" fill="none" stroke="#d15026" stroke-width="6.2" stroke-linejoin="round"/>
<polyline points="1373.33,1346.33 1393.33,1366.33 1446.67,1366.33 1460,1353 1460,1346.33 1453.33,1339.67" fill="none" stroke="#d15026" stroke-width="6.2" stroke-linejoin="round"/>
<polygon points="1400.7,1285.7 1406.7,1276.7 1412.7,1285.7" fill="#555555"/>
<polygon points="1400.7,1339.7 1406.7,1330.7 1412.7,1339.7" fill="#555555"/>
</g>
<g id="stations">
<rect x="70.13" y="296.03" width="6.40" height="13.93" rx="3.20" fill="#fff" stroke="#222" stroke-width="0.7"/>
<rect x="223.47" y="336.03" width="6.40" height="13.93" rx="3.20" fill="#fff" stroke="#222" stroke-width="0.7"/>
<rect x="336.37" y="356.47" width="13.93" height="6.40" rx="3.20" fill="#fff" stroke="#222" stroke-width="0.7"/>
<rect x="363.47" y="376.03" width="6.40" height="13.93" rx="3.20" fill="#fff" stroke="#222" stroke-width="0.7"/>
<rect x="523.47" y="376.03" width="6.40" height="33.93" rx="3.20" fill="#fff" stroke="#222" stroke-width="0.7"/>
<rect x="543.47" y="376.03" width="6.40" height="20.60" rx="3.20" fill="#fff" stroke="#222" stroke-width="0.7"/>
<rect x="570.13" y="376.03" width="6.40" height="20.60" rx="3.20" fill="#fff" stroke="#222" stroke-width="0.7"/>
<rect x="596.80" y="376.03" width="6.40" height="20.60" rx="3.20" fill="#fff" stroke="#222" stroke-width="0.7"/>
<rect x="623.47" y="376.03" width="6.40" height="20.60" rx="3.20" fill="#fff" stroke="#222" stroke-width="0.7"/>
<rect x="650.13" y="382.70" width="6.40" height="40.60" rx="3.20" fill="#fff" stroke="#222" stroke-width="0.7"/>
<rect x="663.47" y="382.70" width="6.40" height="27.27" rx="3.20" fill="#fff" stroke="#222" stroke-width="0.7"/>
<rect x="683.47" y="382.70" width="6.40" height="27.27" rx="3.20" fill="#fff" stroke="#222" stroke-width="0.7"/>
<rect x="710.13" y="382.70" width="6.40" height="40.60" rx="3.20" fill="#fff" stroke="#222" stroke-width="0.7"/>
<rect x="663.47" y="336.03" width="6.40" height="13.93" rx="3.20" fill="#fff" stroke="#222" stroke-width="0.7"/>
<rect x="469.70" y="29.80" width="13.93" height="6.40" rx="3.20" fill="#fff" stroke="#222" stroke-width="0.7"/>
<rect x="436.37" y="176.47" width="13.93" height="6.40" rx="3.20" fill="#fff" stroke="#222" stroke-width="0.7"/>
<rect x="503.03" y="276.47" width="20.60" height="6.40" rx="3.20" fill="#fff" stroke="#222" stroke-width="0.7"/>
<rect x="469.70" y="436.47" width="13.93" height="6.40" rx="3.20" fill="#fff" stroke="#222" stroke-width="0.7"/>
<rect x="390.13" y="516.03" width="6.40" height="13.93" rx="3.20" fill="#fff" stroke="#222" stroke-width="0.7"/>
<rect x="509.70" y="583.13" width="20.60" height="6.40" rx="3.20" fill="#fff" stroke="#222" stroke-width="0.7"/>
<rect x="383.03" y="756.47" width="13.93" height="6.40" rx="3.20" fill="#fff" stroke="#222" stroke-width="0.7"/>
<rect x="1256.37" y="263.13" width="13.93" height="6.40" rx="3.20" fill="#fff" stroke="#222" stroke-width="0.7"/>
<rect x="1356.37" y="163.13" width="13.93" height="6.40" rx="3.20" fill="#fff" stroke="#222" stroke-width="0.7"/>
<rect x="1423.33" y="126.47" width="13.33" height="6.40" rx="3.20" fill="#fff" stroke="#222" stroke-width="0.7" transform="rotate(45 1430.00 129.67)"/>
<rect x="1443.03" y="29.80" width="13.93" height="6.40" rx="3.20" fill="#fff" stroke="#222" stroke-width="0.7"/>
<rect x="336.80" y="829.37" width="6.40" height="40.60" rx="3.20" fill="#fff" stroke="#222" stroke-width="0.7"/>
<rect x="543.47" y="836.03" width="6.40" height="33.93" rx="3.20" fill="#fff" stroke="#222" stroke-width="0.7"/>
<rect x="363.03" y="949.80" width="33.93" height="6.40" rx="3.20" fill="#fff" stroke="#222" stroke-width="0.7"/>
<rect x="543.47" y="956.03" width="6.40" height="20.60" rx="3.20" fill="#fff" stroke="#222" stroke-width="0.7"/>
<rect x="663.47" y="956.03" width="6.40" height="20.60" rx="3.20" fill="#fff" stroke="#222" stroke-width="0.7"/>
<rect x="369.70" y="1016.47" width="20.60" height="6.40" rx="3.20" fill="#fff" stroke="#222" stroke-width="0.7"/>
<rect x="390.13" y="1062.70" width="6.40" height="20.60" rx="3.20" fill="#fff" stroke="#222" stroke-width="0.7"/>
<rect x="543.47" y="1062.70" width="6.40" height="20.60" rx="3.20" fill="#fff" stroke="#222" stroke-width="0.7"/>
<rect x="663.47" y="1062.70" width="6.40" height="20.60" rx="3.20" fill="#fff" stroke="#222" stroke-width="0.7"/>
<rect x="296.80" y="1149.37" width="6.40" height="20.60" rx="3.20" fill="#fff" stroke="#222" stroke-width="0.7"/>
<rect x="716.80" y="836.03" width="6.40" height="27.27" rx="3.20" fill="#fff" stroke="#222" stroke-width="0.7"/>
<rect x="689.70" y="903.13" width="13.93" height="6.40" rx="3.20" fill="#fff" stroke="#222" stroke-width="0.7"/>
<rect x="683.03" y="1016.47" width="13.93" height="6.40" rx="3.20" fill="#fff" stroke="#222" stroke-width="0.7"/>
<rect x="783.47" y="836.03" width="6.40" height="13.93" rx="3.20" fill="#fff" stroke="#222" stroke-width="0.7"/>
<rect x="863.47" y="836.03" width="6.40" height="13.93" rx="3.20" fill="#fff" stroke="#222" stroke-width="0.7"/>
<rect x="943.47" y="822.70" width="6.40" height="27.27" rx="3.20" fill="#fff" stroke="#222" stroke-width="0.7"/>
<rect x="776.80" y="956.03" width="6.40" height="13.93" rx="3.20" fill="#fff" stroke="#222" stroke-width="0.7"/>
<rect x="870.13" y="956.03" width="6.40" height="13.93" rx="3.20" fill="#fff" stroke="#222" stroke-width="0.7"/>
<rect x="950.13" y="949.37" width="6.40" height="13.93" rx="3.20" fill="#fff" stroke="#222" stroke-width="0.7"/>
<rect x="1036.37" y="963.13" width="20.60" height="6.40" rx="3.20" fill="#fff" stroke="#222" stroke-width="0.7"/>
<rect x="1123.47" y="1169.37" width="6.40" height="13.93" rx="3.20" fill="#fff" stroke="#222" stroke-width="0.7"/>
<rect x="89.63" y="344.33" width="7.4" height="4.0" fill="#fff" stroke="#111" stroke-width="0.8"/>
<rect x="124.67" y="355.97" width="4.0" height="7.4" fill="#fff" stroke="#111" stroke-width="0.8"/>
<rect x="169.63" y="357.67" width="7.4" height="4.0" fill="#fff" stroke="#111" stroke-width="0.8"/>
<rect x="204.67" y="302.63" width="4.0" height="7.4" fill="#fff" stroke="#111" stroke-width="0.8"/>
<rect x="244.67" y="342.63" width="4.0" height="7.4" fill="#fff" stroke="#111" stroke-width="0.8"/>
<rect x="271.33" y="349.30" width="4.0" height="7.4" fill="#fff" stroke="#111" stroke-width="0.8"/>
<rect x="298.00" y="349.30" width="4.0" height="7.4" fill="#fff" stroke="#111" stroke-width="0.8"/>
<rect x="351.33" y="369.30" width="4.0" height="7.4" fill="#fff" stroke="#111" stroke-width="0.8" transform="rotate(45 353.33 373.00)"/>
<rect x="378.00" y="375.97" width="4.0" height="7.4" fill="#fff" stroke="#111" stroke-width="0.8"/>
<rect x="404.67" y="362.63" width="4.0" height="7.4" fill="#fff" stroke="#111" stroke-width="0.8"/>
<rect x="424.67" y="362.63" width="4.0" height="7.4" fill="#fff" stroke="#111" stroke-width="0.8"/>
<rect x="444.67" y="362.63" width="4.0" height="7.4" fill="#fff" stroke="#111" stroke-width="0.8"/>
<rect x="464.67" y="369.30" width="4.0" height="7.4" fill="#fff" stroke="#111" stroke-width="0.8"/>
<rect x="484.67" y="375.97" width="4.0" height="7.4" fill="#fff" stroke="#111" stroke-width="0.8"/>
<rect x="349.63" y="391.00" width="7.4" height="4.0" fill="#fff" stroke="#111" stroke-width="0.8"/>
<rect x="338.00" y="409.30" width="4.0" height="7.4" fill="#fff" stroke="#111" stroke-width="0.8" transform="rotate(-45 340.00 413.00)"/>
<rect x="329.63" y="431.00" width="7.4" height="4.0" fill="#fff" stroke="#111" stroke-width="0.8"/>
<rect x="564.67" y="295.97" width="4.0" height="7.4" fill="#fff" stroke="#111" stroke-width="0.8"/>
<rect x="602.97" y="324.33" width="7.4" height="4.0" fill="#fff" stroke="#111" stroke-width="0.8"/>
<rect x="451.33" y="509.30" width="4.0" height="7.4" fill="#fff" stroke="#111" stroke-width="0.8"/>
<rect x="271.33" y="595.97" width="4.0" height="7.4" fill="#fff" stroke="#111" stroke-width="0.8" transform="rotate(-45 273.33 599.67)"/>
<rect x="422.97" y="471.00" width="7.4" height="4.0" fill="#fff" stroke="#111" stroke-width="0.8"/>
<rect x="656.30" y="297.67" width="7.4" height="4.0" fill="#fff" stroke="#111" stroke-width="0.8"/>
<rect x="678.00" y="715.97" width="4.0" height="7.4" fill="#fff" stroke="#111" stroke-width="0.8"/>
<rect x="769.63" y="557.67" width="7.4" height="4.0" fill="#fff" stroke="#111" stroke-width="0.8"/>
<rect x="776.30" y="584.33" width="7.4" height="4.0" fill="#fff" stroke="#111" stroke-width="0.8"/>
<rect x="791.33" y="602.63" width="4.0" height="7.4" fill="#fff" stroke="#111" stroke-width="0.8"/>
<rect x="1131.33" y="489.30" width="4.0" height="7.4" fill="#fff" stroke="#111" stroke-width="0.8"/>
<rect x="984.67" y="162.63" width="4.0" height="7.4" fill="#fff" stroke="#111" stroke-width="0.8" transform="rotate(45 986.67 166.33)"/>
<rect x="996.30" y="217.67" width="7.4" height="4.0" fill="#fff" stroke="#111" stroke-width="0.8"/>
<rect x="996.30" y="291.00" width="7.4" height="4.0" fill="#fff" stroke="#111" stroke-width="0.8"/>
<rect x="989.63" y="311.00" width="7.4" height="4.0" fill="#fff" stroke="#111" stroke-width="0.8"/>
<rect x="989.63" y="331.00" width="7.4" height="4.0" fill="#fff" stroke="#111" stroke-width="0.8"/>
<rect x="989.63" y="351.00" width="7.4" height="4.0" fill="#fff" stroke="#111" stroke-width="0.8"/>
<rect x="1011.33" y="275.97" width="4.0" height="7.4" fill="#fff" stroke="#111" stroke-width="0.8"/>
<rect x="1029.63" y="284.33" width="7.4" height="4.0" fill="#fff" stroke="#111" stroke-width="0.8"/>
<rect x="1044.67" y="295.97" width="4.0" height="7.4" fill="#fff" stroke="#111" stroke-width="0.8"/>
<rect x="1056.30" y="277.67" width="7.4" height="4.0" fill="#fff" stroke="#111" stroke-width="0.8"/>
<rect x="1071.33" y="262.63" width="4.0" height="7.4" fill="#fff" stroke="#111" stroke-width="0.8"/>
<rect x="1091.33" y="262.63" width="4.0" height="7.4" fill="#fff" stroke="#111" stroke-width="0.8"/>
<rect x="1204.67" y="495.97" width="4.0" height="7.4" fill="#fff" stroke="#111" stroke-width="0.8"/>
<rect x="1244.67" y="489.30" width="4.0" height="7.4" fill="#fff" stroke="#111" stroke-width="0.8"/>
<rect x="1278.00" y="475.97" width="4.0" height="7.4" fill="#fff" stroke="#111" stroke-width="0.8" transform="rotate(-45 1280.00 479.67)"/>
<rect x="1282.97" y="451.00" width="7.4" height="4.0" fill="#fff" stroke="#111" stroke-width="0.8"/>
<rect x="1196.30" y="597.67" width="7.4" height="4.0" fill="#fff" stroke="#111" stroke-width="0.8"/>
<rect x="1229.63" y="684.33" width="7.4" height="4.0" fill="#fff" stroke="#111" stroke-width="0.8"/>
<rect x="411.33" y="1149.30" width="4.0" height="7.4" fill="#fff" stroke="#111" stroke-width="0.8"/>
<rect x="638.00" y="1155.97" width="4.0" height="7.4" fill="#fff" stroke="#111" stroke-width="0.8"/>
<rect x="451.33" y="802.63" width="4.0" height="7.4" fill="#fff" stroke="#111" stroke-width="0.8"/>
<rect x="998.00" y="862.63" width="4.0" height="7.4" fill="#fff" stroke="#111" stroke-width="0.8" transform="rotate(45 1000.00 866.33)"/>
<rect x="1002.97" y="897.67" width="7.4" height="4.0" fill="#fff" stroke="#111" stroke-width="0.8"/>
<rect x="1031.33" y="922.63" width="4.0" height="7.4" fill="#fff" stroke="#111" stroke-width="0.8" transform="rotate(45 1033.33 926.33)"/>
<rect x="791.33" y="1082.63" width="4.0" height="7.4" fill="#fff" stroke="#111" stroke-width="0.8"/>
<rect x="871.33" y="1042.63" width="4.0" height="7.4" fill="#fff" stroke="#111" stroke-width="0.8" transform="rotate(-45 873.33 1046.33)"/>
<rect x="931.33" y="1035.97" width="4.0" height="7.4" fill="#fff" stroke="#111" stroke-width="0.8"/>
<rect x="1004.67" y="1035.97" width="4.0" height="7.4" fill="#fff" stroke="#111" stroke-width="0.8"/>
<rect x="944.67" y="1142.63" width="4.0" height="7.4" fill="#fff" stroke="#111" stroke-width="0.8"/>
<rect x="1076.30" y="1017.67" width="7.4" height="4.0" fill="#fff" stroke="#111" stroke-width="0.8"/>
<rect x="1082.97" y="1064.33" width="7.4" height="4.0" fill="#fff" stroke="#111" stroke-width="0.8"/>
<rect x="471.33" y="1242.63" width="4.0" height="7.4" fill="#fff" stroke="#111" stroke-width="0.8"/>
<rect x="504.67" y="1242.63" width="4.0" height="7.4" fill="#fff" stroke="#111" stroke-width="0.8"/>
<rect x="538.00" y="1242.63" width="4.0" height="7.4" fill="#fff" stroke="#111" stroke-width="0.8"/>
<rect x="571.33" y="1242.63" width="4.0" height="7.4" fill="#fff" stroke="#111" stroke-width="0.8"/>
<rect x="604.67" y="1242.63" width="4.0" height="7.4" fill="#fff" stroke="#111" stroke-width="0.8"/>
<rect x="638.00" y="1242.63" width="4.0" height="7.4" fill="#fff" stroke="#111" stroke-width="0.8"/>
<rect x="671.33" y="1242.63" width="4.0" height="7.4" fill="#fff" stroke="#111" stroke-width="0.8"/>
<rect x="704.67" y="1242.63" width="4.0" height="7.4" fill="#fff" stroke="#111" stroke-width="0.8"/>
<rect x="738.00" y="1242.63" width="4.0" height="7.4" fill="#fff" stroke="#111" stroke-width="0.8"/>
<rect x="771.33" y="1242.63" width="4.0" height="7.4" fill="#fff" stroke="#111" stroke-width="0.8"/>
<rect x="804.67" y="1242.63" width="4.0" height="7.4" fill="#fff" stroke="#111" stroke-width="0.8"/>
<rect x="704.67" y="1295.97" width="4.0" height="7.4" fill="#fff" stroke="#111" stroke-width="0.8"/>
<rect x="738.00" y="1295.97" width="4.0" height="7.4" fill="#fff" stroke="#111" stroke-width="0.8"/>
<rect x="771.33" y="1295.97" width="4.0" height="7.4" fill="#fff" stroke="#111" stroke-width="0.8"/>
<rect x="838.00" y="1269.30" width="4.0" height="7.4" fill="#fff" stroke="#111" stroke-width="0.8"/>
<rect x="871.33" y="1269.30" width="4.0" height="7.4" fill="#fff" stroke="#111" stroke-width="0.8"/>
<rect x="904.67" y="1269.30" width="4.0" height="7.4" fill="#fff" stroke="#111" stroke-width="0.8"/>
<rect x="938.00" y="1269.30" width="4.0" height="7.4" fill="#fff" stroke="#111" stroke-width="0.8"/>
<rect x="971.33" y="1269.30" width="4.0" height="7.4" fill="#fff" stroke="#111" stroke-width="0.8"/>
<rect x="1004.67" y="1269.30" width="4.0" height="7.4" fill="#fff" stroke="#111" stroke-width="0.8"/>
<rect x="1038.00" y="1269.30" width="4.0" height="7.4" fill="#fff" stroke="#111" stroke-width="0.8"/>
<rect x="1071.33" y="1269.30" width="4.0" height="7.4" fill="#fff" stroke="#111" stroke-width="0.8"/>
<rect x="1104.67" y="1269.30" width="4.0" height="7.4" fill="#fff" stroke="#111" stroke-width="0.8"/>
<rect x="1138.00" y="1269.30" width="4.0" height="7.4" fill="#fff" stroke="#111" stroke-width="0.8"/>
<rect x="1171.33" y="1269.30" width="4.0" height="7.4" fill="#fff" stroke="#111" stroke-width="0.8"/>
<rect x="1204.67" y="1269.30" width="4.0" height="7.4" fill="#fff" stroke="#111" stroke-width="0.8"/>
<rect x="1238.00" y="1269.30" width="4.0" height="7.4" fill="#fff" stroke="#111" stroke-width="0.8"/>
<rect x="1271.33" y="1269.30" width="4.0" height="7.4" fill="#fff" stroke="#111" stroke-width="0.8"/>
<rect x="1304.67" y="1269.30" width="4.0" height="7.4" fill="#fff" stroke="#111" stroke-width="0.8"/>
<rect x="1338.00" y="1269.30" width="4.0" height="7.4" fill="#fff" stroke="#111" stroke-width="0.8"/>
<rect x="1371.33" y="1269.30" width="4.0" height="7.4" fill="#fff" stroke="#111" stroke-width="0.8"/>
<rect x="1404.67" y="1269.30" width="4.0" height="7.4" fill="#fff" stroke="#111" stroke-width="0.8"/>
<rect x="1438.00" y="1269.30" width="4.0" height="7.4" fill="#fff" stroke="#111" stroke-width="0.8"/>
<rect x="1471.33" y="1269.30" width="4.0" height="7.4" fill="#fff" stroke="#111" stroke-width="0.8"/>
<rect x="1504.67" y="1269.30" width="4.0" height="7.4" fill="#fff" stroke="#111" stroke-width="0.8"/>
<rect x="1538.00" y="1269.30" width="4.0" height="7.4" fill="#fff" stroke="#111" stroke-width="0.8"/>
<rect x="1571.33" y="1269.30" width="4.0" height="7.4" fill="#fff" stroke="#111" stroke-width="0.8"/>
<rect x="938.00" y="1342.63" width="4.0" height="7.4" fill="#fff" stroke="#111" stroke-width="0.8"/>
<rect x="971.33" y="1342.63" width="4.0" height="7.4" fill="#fff" stroke="#111" stroke-width="0.8"/>
<rect x="1004.67" y="1342.63" width="4.0" height="7.4" fill="#fff" stroke="#111" stroke-width="0.8"/>
<rect x="1038.00" y="1342.63" width="4.0" height="7.4" fill="#fff" stroke="#111" stroke-width="0.8"/>
<rect x="1071.33" y="1342.63" width="4.0" height="7.4" fill="#fff" stroke="#111" stroke-width="0.8"/>
<rect x="1104.67" y="1342.63" width="4.0" height="7.4" fill="#fff" stroke="#111" stroke-width="0.8"/>
<rect x="1138.00" y="1342.63" width="4.0" height="7.4" fill="#fff" stroke="#111" stroke-width="0.8"/>
<rect x="1171.33" y="1342.63" width="4.0" height="7.4" fill="#fff" stroke="#111" stroke-width="0.8"/>
<rect x="1204.67" y="1342.63" width="4.0" height="7.4" fill="#fff" stroke="#111" stroke-width="0.8"/>
<rect x="1238.00" y="1342.63" width="4.0" height="7.4" fill="#fff" stroke="#111" stroke-width="0.8"/>
<rect x="1271.33" y="1322.63" width="4.0" height="7.4" fill="#fff" stroke="#111" stroke-width="0.8"/>
<rect x="1304.67" y="1322.63" width="4.0" height="7.4" fill="#fff" stroke="#111" stroke-width="0.8"/>
<rect x="1404.67" y="1322.63" width="4.0" height="7.4" fill="#fff" stroke="#111" stroke-width="0.8"/>
<rect x="1438.00" y="1322.63" width="4.0" height="7.4" fill="#fff" stroke="#111" stroke-width="0.8"/>
<rect x="1338.00" y="1342.63" width="4.0" height="7.4" fill="#fff" stroke="#111" stroke-width="0.8"/>
<rect x="1371.33" y="1342.63" width="4.0" height="7.4" fill="#fff" stroke="#111" stroke-width="0.8"/>
<rect x="1238.00" y="1375.97" width="4.0" height="7.4" fill="#fff" stroke="#111" stroke-width="0.8"/>
<rect x="1404.67" y="1362.63" width="4.0" height="7.4" fill="#fff" stroke="#111" stroke-width="0.8"/>
<rect x="1438.00" y="1362.63" width="4.0" height="7.4" fill="#fff" stroke="#111" stroke-width="0.8"/>
<rect x="835.80" y="437.50" width="7.4" height="4.0" fill="#fff" stroke="#111" stroke-width="0.8"/>
</g>
<g id="labels" fill="#000">
<text x="486.0" y="35.1" font-size="6.5" text-anchor="start"><tspan font-weight="bold" stroke="#000" stroke-width="0.35">B</tspan><tspan font-weight="normal">ERESFORD</tspan></text>
<text x="452.0" y="181.7" font-size="6.5" font-weight="bold" text-anchor="start" stroke="#000" stroke-width="0.35">PONTYFRIDD</text>
<text x="522.5" y="278.5" font-size="7.0" text-anchor="start" transform="rotate(-45 522.5 276.0)"><tspan font-weight="bold" stroke="#000" stroke-width="0.5">LANST</tspan><tspan font-weight="normal">OWN</tspan></text>
<text x="569.0" y="298.6" font-size="7.3" font-weight="bold" text-anchor="start" stroke="#000" stroke-width="0.5" transform="rotate(-45 569.0 296.0)">Romsey</text>
<text x="665.0" y="302.3" font-size="6.5" font-weight="bold" text-anchor="start" stroke="#000" stroke-width="0.35">???</text>
<text x="670.0" y="338.5" font-size="7.0" text-anchor="start" transform="rotate(-45 670.0 336.0)"><tspan font-weight="bold" stroke="#000" stroke-width="0.5">AUCHENF</tspan><tspan font-weight="normal">LOWER</tspan></text>
<text x="75.5" y="300.3" font-size="7.0" font-weight="normal" text-anchor="start" transform="rotate(-45 75.5 297.8)">DIGHT'S FALLS</text>
<text x="229.0" y="338.6" font-size="7.3" font-weight="bold" text-anchor="start" stroke="#000" stroke-width="0.5" transform="rotate(-45 229.0 336.0)">DOONSIDE</text>
<text x="348.0" y="358.6" font-size="7.3" font-weight="bold" text-anchor="start" stroke="#000" stroke-width="0.5" transform="rotate(-45 348.0 356.0)">TOOLERN</text>
<text x="355.6" y="371.6" font-size="7.3" font-weight="bold" text-anchor="start" stroke="#000" stroke-width="0.5" transform="rotate(-45 355.6 369.0)">Bevans St</text>
<text x="369.0" y="377.6" font-size="7.3" font-weight="bold" text-anchor="start" stroke="#000" stroke-width="0.5" transform="rotate(-45 369.0 375.0)">UNION</text>
<text x="383.0" y="377.6" font-size="7.3" font-weight="bold" text-anchor="start" stroke="#000" stroke-width="0.5" transform="rotate(-45 383.0 375.0)">Wylne</text>
<text x="421.7" y="364.0" font-size="7.3" font-weight="bold" text-anchor="end" stroke="#000" stroke-width="0.5" transform="rotate(45 421.7 361.3)">Medbury</text>
<text x="441.7" y="364.0" font-size="7.3" font-weight="bold" text-anchor="end" stroke="#000" stroke-width="0.5" transform="rotate(45 441.7 361.3)">Ayles Creek</text>
<text x="461.7" y="370.6" font-size="7.3" font-weight="bold" text-anchor="end" stroke="#000" stroke-width="0.5" transform="rotate(45 461.7 368.0)">Cunnington</text>
<text x="481.7" y="377.3" font-size="7.3" font-weight="bold" text-anchor="end" stroke="#000" stroke-width="0.5" transform="rotate(45 481.7 374.7)">Ogilvieton</text>
<text x="412.0" y="372.6" font-size="7.3" font-weight="bold" text-anchor="start" stroke="#000" stroke-width="0.5" transform="rotate(45 412.0 370.0)">Pennyfare</text>
<text x="359.0" y="396.3" font-size="6.5" font-weight="bold" text-anchor="start" stroke="#000" stroke-width="0.35">Baldsville</text>
<text x="345.6" y="416.3" font-size="6.5" font-weight="bold" text-anchor="start" stroke="#000" stroke-width="0.35">Maryland</text>
<text x="339.0" y="436.3" font-size="6.5" font-weight="bold" text-anchor="start" stroke="#000" stroke-width="0.35">STANHOPE</text>
<text x="543.7" y="377.3" font-size="7.3" font-weight="bold" text-anchor="end" stroke="#000" stroke-width="0.5" transform="rotate(45 543.7 374.7)">South Bay</text>
<text x="570.3" y="377.2" font-size="7.0" font-weight="normal" text-anchor="end" transform="rotate(45 570.3 374.7)">Linden</text>
<text x="597.0" y="377.3" font-size="7.3" font-weight="bold" text-anchor="end" stroke="#000" stroke-width="0.5" transform="rotate(45 597.0 374.7)">Woodleigh</text>
<text x="623.7" y="377.3" font-size="7.3" font-weight="bold" text-anchor="end" stroke="#000" stroke-width="0.5" transform="rotate(45 623.7 374.7)">Oaklane</text>
<text x="663.7" y="384.0" font-size="7.3" font-weight="bold" text-anchor="end" stroke="#000" stroke-width="0.5" transform="rotate(45 663.7 381.3)">Acton Gardens</text>
<text x="683.7" y="384.0" font-size="7.3" font-weight="bold" text-anchor="end" stroke="#000" stroke-width="0.5" transform="rotate(45 683.7 381.3)">Lynford</text>
<text x="524.0" y="413.6" font-size="7.3" font-weight="bold" text-anchor="end" stroke="#000" stroke-width="0.5" transform="rotate(-45 524.0 411.0)">ELSMORE</text>
<text x="651.0" y="425.5" font-size="7.0" font-weight="normal" text-anchor="end" transform="rotate(-45 651.0 423.0)">NYVILLE</text>
<text x="709.0" y="426.5" font-size="7.0" font-weight="normal" text-anchor="end" transform="rotate(-45 709.0 424.0)">WESTBANK</text>
<text x="422.0" y="475.3" font-size="6.5" font-weight="bold" text-anchor="end" stroke="#000" stroke-width="0.35">WATSONIA AIRPORT</text>
<text x="389.0" y="521.8" font-size="6.5" font-weight="bold" text-anchor="end" stroke="#000" stroke-width="0.35">STONEBRIDGE</text>
<text x="279.0" y="602.3" font-size="6.5" font-weight="bold" text-anchor="start" stroke="#000" stroke-width="0.35">ABBOTT ORCHARDS</text>
<text x="532.5" y="588.3" font-size="6.5" text-anchor="start"><tspan font-weight="bold" stroke="#000" stroke-width="0.35">GU</tspan><tspan font-weight="normal">ILDFORD</tspan></text>
<text x="399.0" y="762.3" font-size="6.5" text-anchor="start"><tspan font-weight="bold" stroke="#000" stroke-width="0.35">M</tspan><tspan font-weight="normal">T. STEENBERG</tspan></text>
<text x="644.0" y="756.6" font-size="7.3" font-weight="bold" text-anchor="start" stroke="#000" stroke-width="0.5" transform="rotate(-45 644.0 754.0)">OXFORD BAY</text>
<text x="767.0" y="562.3" font-size="6.5" text-anchor="end"><tspan font-weight="normal">Tenth H</tspan><tspan font-weight="bold" stroke="#000" stroke-width="0.35">ill</tspan></text>
<text x="775.0" y="588.9" font-size="6.5" text-anchor="end"><tspan font-weight="normal">East B</tspan><tspan font-weight="bold" stroke="#000" stroke-width="0.35">righton</tspan></text>
<text x="788.0" y="608.3" font-size="6.5" text-anchor="end"><tspan font-weight="normal">ST. FRAN</tspan><tspan font-weight="bold" stroke="#000" stroke-width="0.35">CIS</tspan></text>
<text x="846.0" y="441.8" font-size="6.5" font-weight="bold" text-anchor="start" stroke="#000" stroke-width="0.35">CITY STATIONS (SEE INSET)</text>
<text x="992.5" y="169.3" font-size="6.5" font-weight="bold" text-anchor="start" stroke="#000" stroke-width="0.35">???</text>
<text x="1099.0" y="268.3" font-size="6.5" font-weight="bold" text-anchor="start" stroke="#000" stroke-width="0.35">MAYFAIR</text>
<text x="994.0" y="294.8" font-size="6.5" font-weight="bold" text-anchor="end" stroke="#000" stroke-width="0.35">Strathmore</text>
<text x="989.0" y="315.3" font-size="6.5" font-weight="bold" text-anchor="end" stroke="#000" stroke-width="0.35">Glasgow</text>
<text x="989.0" y="335.3" font-size="6.5" font-weight="bold" text-anchor="end" stroke="#000" stroke-width="0.35">Victoria Pde</text>
<text x="989.0" y="355.3" font-size="6.5" font-weight="bold" text-anchor="end" stroke="#000" stroke-width="0.35">Commonwealth Gardens</text>
<text x="1441.0" y="34.8" font-size="6.5" font-weight="bold" text-anchor="end" stroke="#000" stroke-width="0.35">THORPEDOM</text>
<text x="1439.0" y="134.8" font-size="6.5" text-anchor="start"><tspan font-weight="bold" stroke="#000" stroke-width="0.35">O</tspan><tspan font-weight="normal">XYGEN BAY</tspan></text>
<text x="1372.5" y="168.3" font-size="6.5" text-anchor="start"><tspan font-weight="bold" stroke="#000" stroke-width="0.35">EDGE</tspan><tspan font-weight="normal">COMBE</tspan></text>
<text x="1271.0" y="268.3" font-size="6.5" font-weight="bold" text-anchor="start" stroke="#000" stroke-width="0.35">WHITCHERPROOF</text>
<text x="1292.5" y="455.3" font-size="6.5" font-weight="bold" text-anchor="start" stroke="#000" stroke-width="0.35">BEAUFORT</text>
<text x="1285.0" y="482.3" font-size="6.5" font-weight="bold" text-anchor="start" stroke="#000" stroke-width="0.35">Rolling Hills</text>
<text x="1210.0" y="498.6" font-size="7.3" font-weight="bold" text-anchor="start" stroke="#000" stroke-width="0.5" transform="rotate(-45 1210.0 496.0)">HIGHBURY</text>
<text x="1250.0" y="498.6" font-size="7.3" font-weight="bold" text-anchor="start" stroke="#000" stroke-width="0.5" transform="rotate(45 1250.0 496.0)">Marlborough</text>
<text x="1195.0" y="601.8" font-size="6.5" text-anchor="end"><tspan font-weight="normal">BA</tspan><tspan font-weight="bold" stroke="#000" stroke-width="0.35">XTER</tspan></text>
<text x="1227.5" y="688.3" font-size="6.5" font-weight="bold" text-anchor="end" stroke="#000" stroke-width="0.35">GLEN CARR</text>
<text x="458.0" y="808.3" font-size="6.5" font-weight="bold" text-anchor="start" stroke="#000" stroke-width="0.35">CITY INSET, Note WSG stands for Watsonia Sporting Grounds</text>
<text x="337.5" y="873.3" font-size="6.4" font-weight="bold" text-anchor="end" stroke="#000" stroke-width="0.5" transform="rotate(-45 337.5 871.0)">BURBANK</text>
<text x="542.5" y="873.3" font-size="6.4" font-weight="bold" text-anchor="end" stroke="#000" stroke-width="0.5" transform="rotate(-45 542.5 871.0)">STANLEY STREET</text>
<text x="549.0" y="958.3" font-size="6.4" font-weight="bold" text-anchor="start" stroke="#000" stroke-width="0.5" transform="rotate(-45 549.0 956.0)">FLEMINGTON SQUARE</text>
<text x="369.0" y="1024.8" font-size="6.4" font-weight="bold" text-anchor="end" stroke="#000" stroke-width="0.5" transform="rotate(-45 369.0 1022.5)">NIXON POINT</text>
<text x="549.0" y="1064.8" font-size="6.4" font-weight="bold" text-anchor="start" stroke="#000" stroke-width="0.5" transform="rotate(-45 549.0 1062.5)">Watsonia Ferry Terminal</text>
<text x="300.0" y="1151.3" font-size="6.4" font-weight="bold" text-anchor="start" stroke="#000" stroke-width="0.5" transform="rotate(-90 300.0 1149.0)">TULLAMARINE HARBOUR</text>
<text x="415.0" y="1152.3" font-size="6.4" font-weight="bold" text-anchor="start" stroke="#000" stroke-width="0.5" transform="rotate(-45 415.0 1150.0)">Watsonia CBD</text>
<text x="641.0" y="1158.3" font-size="6.4" font-weight="bold" text-anchor="start" stroke="#000" stroke-width="0.5" transform="rotate(-45 641.0 1156.0)">Rockwood Stadium</text>
<text x="724.0" y="864.8" font-size="6.4" font-weight="bold" text-anchor="start" stroke="#000" stroke-width="0.5" transform="rotate(45 724.0 862.5)">RUSSELL MARKETS</text>
<text x="790.0" y="852.3" font-size="6.4" font-weight="bold" text-anchor="start" stroke="#000" stroke-width="0.5" transform="rotate(45 790.0 850.0)">Tennyville Ave.</text>
<text x="870.0" y="852.3" font-size="6.4" font-weight="bold" text-anchor="start" stroke="#000" stroke-width="0.5" transform="rotate(45 870.0 850.0)">Glenhuntly</text>
<text x="950.0" y="852.3" font-size="6.4" font-weight="bold" text-anchor="start" stroke="#000" stroke-width="0.5" transform="rotate(45 950.0 850.0)">BARKLY - WSG</text>
<text x="795.0" y="1084.8" font-size="6.4" font-weight="bold" text-anchor="start" stroke="#000" stroke-width="0.5" transform="rotate(-45 795.0 1082.5)">Mansfield Stadium</text>
<text x="950.0" y="1144.8" font-size="6.4" font-weight="bold" text-anchor="start" stroke="#000" stroke-width="0.5" transform="rotate(-45 950.0 1142.5)">Crown Junction</text>
<text x="1059.0" y="968.3" font-size="6.5" font-weight="bold" text-anchor="start" stroke="#000" stroke-width="0.35">CHISHOLM</text>
<text x="1081.0" y="1068.3" font-size="6.5" font-weight="bold" text-anchor="end" stroke="#000" stroke-width="0.35">RUTHVEN</text>
<text x="1129.0" y="1172.3" font-size="6.4" font-weight="bold" text-anchor="start" stroke="#000" stroke-width="0.5" transform="rotate(-45 1129.0 1170.0)">MALCOLM</text>
<text x="475.3" y="1243.8" font-size="6.8" font-weight="bold" text-anchor="start" stroke="#000" stroke-width="0.5" transform="rotate(-45 475.3 1241.3)">DIGHT'S FALLS</text>
<text x="642.0" y="1243.8" font-size="6.8" font-weight="bold" text-anchor="start" stroke="#000" stroke-width="0.5" transform="rotate(-45 642.0 1241.3)">DOONSIDE</text>
<text x="775.3" y="1243.8" font-size="6.8" font-weight="bold" text-anchor="start" stroke="#000" stroke-width="0.5" transform="rotate(-45 775.3 1241.3)">TOOLERN</text>
<text x="808.7" y="1243.8" font-size="6.8" font-weight="bold" text-anchor="start" stroke="#000" stroke-width="0.5" transform="rotate(-45 808.7 1241.3)">Bevans St</text>
<text x="708.7" y="1297.1" font-size="6.8" font-weight="bold" text-anchor="start" stroke="#000" stroke-width="0.5" transform="rotate(-45 708.7 1294.7)">STANHOPE</text>
<text x="742.0" y="1297.1" font-size="6.8" font-weight="bold" text-anchor="start" stroke="#000" stroke-width="0.5" transform="rotate(-45 742.0 1294.7)">Maryland</text>
<text x="775.3" y="1297.1" font-size="6.8" font-weight="bold" text-anchor="start" stroke="#000" stroke-width="0.5" transform="rotate(-45 775.3 1294.7)">Baldsville</text>
<text x="842.0" y="1270.4" font-size="6.8" font-weight="bold" text-anchor="start" stroke="#000" stroke-width="0.5" transform="rotate(-45 842.0 1268.0)">UNION</text>
<text x="875.3" y="1270.4" font-size="6.8" font-weight="bold" text-anchor="start" stroke="#000" stroke-width="0.5" transform="rotate(-45 875.3 1268.0)">Wylne</text>
<text x="908.7" y="1270.4" font-size="6.8" font-weight="bold" text-anchor="start" stroke="#000" stroke-width="0.5" transform="rotate(-45 908.7 1268.0)">Pennyfare</text>
<text x="942.0" y="1270.4" font-size="6.8" font-weight="bold" text-anchor="start" stroke="#000" stroke-width="0.5" transform="rotate(-45 942.0 1268.0)">Medbury</text>
<text x="975.3" y="1270.4" font-size="6.8" font-weight="bold" text-anchor="start" stroke="#000" stroke-width="0.5" transform="rotate(-45 975.3 1268.0)">Ayles Creek</text>
<text x="1008.7" y="1270.4" font-size="6.8" font-weight="bold" text-anchor="start" stroke="#000" stroke-width="0.5" transform="rotate(-45 1008.7 1268.0)">Cunnington</text>
<text x="1042.0" y="1270.4" font-size="6.8" font-weight="bold" text-anchor="start" stroke="#000" stroke-width="0.5" transform="rotate(-45 1042.0 1268.0)">Ogilvieton</text>
<text x="1075.3" y="1270.4" font-size="6.8" font-weight="bold" text-anchor="start" stroke="#000" stroke-width="0.5" transform="rotate(-45 1075.3 1268.0)">ELSMORE</text>
<text x="1108.7" y="1270.4" font-size="6.8" font-weight="bold" text-anchor="start" stroke="#000" stroke-width="0.5" transform="rotate(-45 1108.7 1268.0)">South Bay</text>
<text x="1142.0" y="1270.4" font-size="6.8" font-weight="bold" text-anchor="start" stroke="#000" stroke-width="0.5" transform="rotate(-45 1142.0 1268.0)">Linden</text>
<text x="1175.3" y="1270.4" font-size="6.8" font-weight="bold" text-anchor="start" stroke="#000" stroke-width="0.5" transform="rotate(-45 1175.3 1268.0)">Woodleigh</text>
<text x="1208.7" y="1270.4" font-size="6.8" font-weight="bold" text-anchor="start" stroke="#000" stroke-width="0.5" transform="rotate(-45 1208.7 1268.0)">Oaklane</text>
<text x="1242.0" y="1270.4" font-size="6.8" font-weight="bold" text-anchor="start" stroke="#000" stroke-width="0.5" transform="rotate(-45 1242.0 1268.0)">NYVILLE</text>
<text x="1275.3" y="1270.4" font-size="6.8" font-weight="bold" text-anchor="start" stroke="#000" stroke-width="0.5" transform="rotate(-45 1275.3 1268.0)">Acton Gardens</text>
<text x="1308.7" y="1270.4" font-size="6.8" font-weight="bold" text-anchor="start" stroke="#000" stroke-width="0.5" transform="rotate(-45 1308.7 1268.0)">Lynford</text>
<text x="1342.0" y="1270.4" font-size="6.8" font-weight="bold" text-anchor="start" stroke="#000" stroke-width="0.5" transform="rotate(-45 1342.0 1268.0)">WESTBANK</text>
<text x="1375.3" y="1270.4" font-size="6.8" font-weight="bold" text-anchor="start" stroke="#000" stroke-width="0.5" transform="rotate(-45 1375.3 1268.0)">BURBANK</text>
<text x="1408.7" y="1270.4" font-size="6.8" font-weight="bold" text-anchor="start" stroke="#000" stroke-width="0.5" transform="rotate(-45 1408.7 1268.0)">STANLEY ST</text>
<text x="1573.8" y="1270.4" font-size="6.8" font-weight="bold" text-anchor="start" stroke="#000" stroke-width="0.5" transform="rotate(-90 1573.8 1268.0)">CHISHOLM</text>
<text x="942.0" y="1343.8" font-size="6.8" font-weight="bold" text-anchor="start" stroke="#000" stroke-width="0.5" transform="rotate(-45 942.0 1341.3)">LANSTOWN</text>
<text x="1075.3" y="1343.8" font-size="6.8" font-weight="bold" text-anchor="start" stroke="#000" stroke-width="0.5" transform="rotate(-45 1075.3 1341.3)">ELSMORE</text>
<text x="1108.7" y="1343.8" font-size="6.8" font-weight="bold" text-anchor="start" stroke="#000" stroke-width="0.5" transform="rotate(-45 1108.7 1341.3)">South Bay</text>
<text x="1142.0" y="1343.8" font-size="6.8" font-weight="bold" text-anchor="start" stroke="#000" stroke-width="0.5" transform="rotate(-45 1142.0 1341.3)">Linden</text>
<text x="1175.3" y="1343.8" font-size="6.8" font-weight="bold" text-anchor="start" stroke="#000" stroke-width="0.5" transform="rotate(-45 1175.3 1341.3)">Woodleigh</text>
<text x="1208.7" y="1343.8" font-size="6.8" font-weight="bold" text-anchor="start" stroke="#000" stroke-width="0.5" transform="rotate(-45 1208.7 1341.3)">Oaklane</text>
<text x="1242.0" y="1343.8" font-size="6.8" font-weight="bold" text-anchor="start" stroke="#000" stroke-width="0.5" transform="rotate(-45 1242.0 1341.3)">NYVILLE</text>
<text x="1342.0" y="1343.8" font-size="6.8" font-weight="bold" text-anchor="start" stroke="#000" stroke-width="0.5" transform="rotate(-45 1342.0 1341.3)">WESTBANK</text>
<text x="1375.3" y="1343.8" font-size="6.8" font-weight="bold" text-anchor="start" stroke="#000" stroke-width="0.5" transform="rotate(-45 1375.3 1341.3)">BURBANK</text>
<text x="1275.3" y="1323.8" font-size="6.8" font-weight="bold" text-anchor="start" stroke="#000" stroke-width="0.5" transform="rotate(-45 1275.3 1321.3)">Acton Gardens</text>
<text x="1308.7" y="1323.8" font-size="6.8" font-weight="bold" text-anchor="start" stroke="#000" stroke-width="0.5" transform="rotate(-45 1308.7 1321.3)">Lynford</text>
<text x="1408.7" y="1323.8" font-size="6.8" font-weight="bold" text-anchor="start" stroke="#000" stroke-width="0.5" transform="rotate(-45 1408.7 1321.3)">STANLEY ST</text>
<text x="1242.0" y="1377.1" font-size="6.8" font-weight="bold" text-anchor="start" stroke="#000" stroke-width="0.5" transform="rotate(-45 1242.0 1374.7)">AUCHENFLOWER</text>
</g>
</svg></body></html>
